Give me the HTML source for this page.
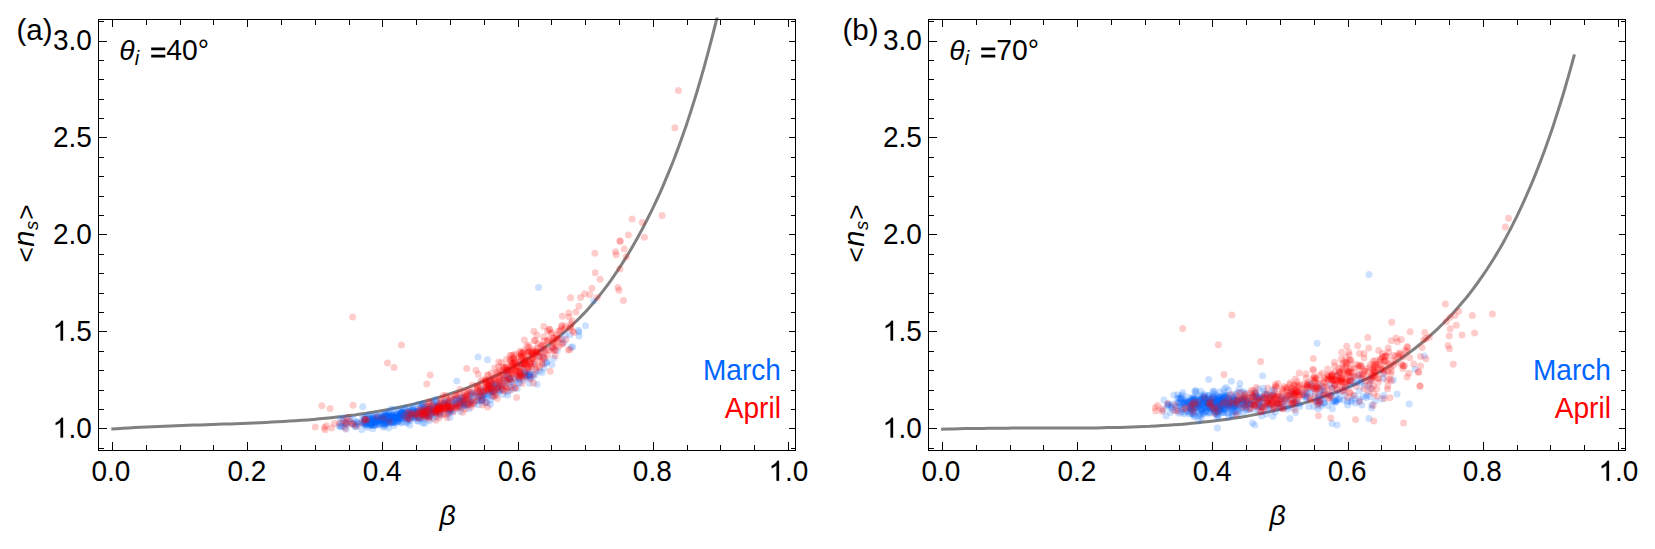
<!DOCTYPE html>
<html><head><meta charset="utf-8"><title>chart</title>
<style>
html,body{margin:0;padding:0;background:#fff}
svg{display:block}
.t{font-family:"Liberation Sans",sans-serif;font-size:28.3px;fill:#000}
.n{font-family:"Liberation Sans",sans-serif;font-size:29.5px;fill:#000}
.i{font-style:italic}
</style></head><body>
<svg width="1655" height="549" viewBox="0 0 1655 549">
<defs><clipPath id="clipc"><rect x="0" y="17.4" width="1655" height="532"/></clipPath></defs>
<rect width="1655" height="549" fill="#fff"/>
<path d="M111.3,429.1 L117.2,428.7 L123.0,428.3 L128.9,427.9 L134.8,427.6 L140.7,427.3 L146.6,427.0 L152.5,426.7 L158.4,426.4 L164.4,426.2 L170.3,425.9 L176.2,425.7 L182.2,425.5 L188.1,425.3 L194.1,425.1 L200.0,424.9 L206.0,424.7 L212.0,424.5 L217.9,424.3 L223.9,424.1 L229.9,423.9 L235.9,423.7 L241.8,423.5 L247.8,423.2 L253.8,423.0 L259.8,422.7 L265.7,422.4 L271.7,422.1 L277.7,421.8 L283.6,421.5 L289.6,421.1 L295.6,420.7 L301.5,420.3 L307.5,419.9 L313.4,419.4 L319.4,418.8 L325.3,418.3 L331.2,417.7 L337.1,417.0 L343.0,416.4 L348.9,415.6 L354.8,414.9 L360.7,414.0 L366.6,413.2 L372.5,412.2 L378.3,411.3 L384.2,410.2 L390.0,409.1 L395.8,408.0 L401.6,406.8 L407.4,405.5 L413.2,404.1 L419.0,402.7 L424.7,401.3 L430.4,399.7 L436.2,398.1 L441.9,396.4 L447.6,394.6 L453.2,392.7 L458.9,390.8 L464.5,388.8 L470.1,386.7 L475.6,384.5 L481.2,382.2 L486.7,379.9 L492.1,377.4 L497.5,374.9 L502.9,372.3 L508.2,369.6 L513.5,366.8 L518.7,363.9 L523.8,360.9 L528.9,357.9 L533.9,354.7 L538.9,351.4 L543.8,348.1 L548.6,344.6 L553.3,341.1 L558.0,337.4 L562.5,333.7 L567.0,329.8 L571.4,325.9 L575.7,321.8 L579.9,317.6 L584.0,313.4 L588.1,309.0 L592.0,304.6 L595.8,300.0 L599.6,295.4 L603.3,290.7 L606.9,285.9 L610.4,281.1 L613.8,276.2 L617.2,271.2 L620.5,266.2 L623.7,261.1 L626.9,256.1 L630.0,250.9 L633.0,245.8 L636.0,240.6 L638.9,235.3 L641.7,230.1 L644.5,224.8 L647.2,219.5 L649.9,214.1 L652.5,208.8 L655.1,203.4 L657.6,198.0 L660.1,192.6 L662.5,187.1 L664.8,181.7 L667.1,176.2 L669.4,170.7 L671.6,165.2 L673.8,159.7 L675.9,154.1 L678.0,148.6 L680.0,143.0 L682.0,137.4 L684.0,131.8 L686.0,126.2 L687.8,120.6 L689.7,114.9 L691.5,109.3 L693.3,103.6 L695.1,97.9 L696.8,92.2 L698.5,86.5 L700.2,80.8 L701.8,75.1 L703.5,69.3 L705.1,63.6 L706.6,57.9 L708.2,52.1 L709.7,46.3 L711.2,40.6 L712.7,34.8 L714.2,29.0 L715.7,23.2 L717.1,17.4 L718.1,13.5" fill="none" stroke="#808080" stroke-width="3" clip-path="url(#clipc)"/>
<g fill="#0066ff" fill-opacity="0.2"><circle cx="440.9" cy="406.4" r="3.5"/><circle cx="498.2" cy="389.8" r="3.5"/><circle cx="528.1" cy="375.7" r="3.5"/><circle cx="370.6" cy="423.7" r="3.5"/><circle cx="385.1" cy="417.6" r="3.5"/><circle cx="519.2" cy="383.1" r="3.5"/><circle cx="398.1" cy="421.3" r="3.5"/><circle cx="530.6" cy="377.1" r="3.5"/><circle cx="507.9" cy="391.7" r="3.5"/><circle cx="421.9" cy="412.5" r="3.5"/><circle cx="393.6" cy="417.4" r="3.5"/><circle cx="365.9" cy="424.0" r="3.5"/><circle cx="353.0" cy="419.1" r="3.5"/><circle cx="398.1" cy="418.0" r="3.5"/><circle cx="428.7" cy="409.5" r="3.5"/><circle cx="438.6" cy="407.7" r="3.5"/><circle cx="437.1" cy="402.6" r="3.5"/><circle cx="482.1" cy="391.0" r="3.5"/><circle cx="414.0" cy="414.5" r="3.5"/><circle cx="465.2" cy="405.6" r="3.5"/><circle cx="340.5" cy="426.4" r="3.5"/><circle cx="379.5" cy="419.7" r="3.5"/><circle cx="454.5" cy="404.1" r="3.5"/><circle cx="394.0" cy="415.1" r="3.5"/><circle cx="374.1" cy="421.8" r="3.5"/><circle cx="429.8" cy="410.4" r="3.5"/><circle cx="450.7" cy="408.5" r="3.5"/><circle cx="401.1" cy="422.9" r="3.5"/><circle cx="426.9" cy="411.9" r="3.5"/><circle cx="444.9" cy="401.4" r="3.5"/><circle cx="448.7" cy="403.0" r="3.5"/><circle cx="420.8" cy="407.8" r="3.5"/><circle cx="409.3" cy="411.1" r="3.5"/><circle cx="392.6" cy="422.5" r="3.5"/><circle cx="438.4" cy="410.2" r="3.5"/><circle cx="402.2" cy="411.4" r="3.5"/><circle cx="375.3" cy="422.5" r="3.5"/><circle cx="385.5" cy="423.2" r="3.5"/><circle cx="525.1" cy="371.6" r="3.5"/><circle cx="426.0" cy="409.6" r="3.5"/><circle cx="383.1" cy="418.4" r="3.5"/><circle cx="492.8" cy="392.6" r="3.5"/><circle cx="435.6" cy="412.5" r="3.5"/><circle cx="539.8" cy="371.0" r="3.5"/><circle cx="429.4" cy="416.2" r="3.5"/><circle cx="544.1" cy="367.9" r="3.5"/><circle cx="366.7" cy="425.5" r="3.5"/><circle cx="425.2" cy="414.9" r="3.5"/><circle cx="424.9" cy="406.6" r="3.5"/><circle cx="521.0" cy="375.6" r="3.5"/><circle cx="407.5" cy="416.9" r="3.5"/><circle cx="389.4" cy="417.3" r="3.5"/><circle cx="367.7" cy="424.1" r="3.5"/><circle cx="393.1" cy="416.9" r="3.5"/><circle cx="372.9" cy="417.9" r="3.5"/><circle cx="355.4" cy="426.7" r="3.5"/><circle cx="529.5" cy="374.9" r="3.5"/><circle cx="396.3" cy="418.3" r="3.5"/><circle cx="511.1" cy="387.4" r="3.5"/><circle cx="417.4" cy="417.9" r="3.5"/><circle cx="458.0" cy="405.3" r="3.5"/><circle cx="423.7" cy="403.3" r="3.5"/><circle cx="459.9" cy="400.3" r="3.5"/><circle cx="367.8" cy="420.0" r="3.5"/><circle cx="369.0" cy="418.3" r="3.5"/><circle cx="390.4" cy="419.1" r="3.5"/><circle cx="372.0" cy="424.5" r="3.5"/><circle cx="400.0" cy="415.3" r="3.5"/><circle cx="503.2" cy="379.8" r="3.5"/><circle cx="367.6" cy="427.4" r="3.5"/><circle cx="432.2" cy="409.0" r="3.5"/><circle cx="379.2" cy="416.1" r="3.5"/><circle cx="525.4" cy="375.0" r="3.5"/><circle cx="413.1" cy="416.3" r="3.5"/><circle cx="377.4" cy="418.0" r="3.5"/><circle cx="535.4" cy="371.7" r="3.5"/><circle cx="570.1" cy="334.7" r="3.5"/><circle cx="562.0" cy="339.4" r="3.5"/><circle cx="431.9" cy="411.6" r="3.5"/><circle cx="390.7" cy="421.0" r="3.5"/><circle cx="417.4" cy="411.6" r="3.5"/><circle cx="490.2" cy="394.0" r="3.5"/><circle cx="403.8" cy="416.1" r="3.5"/><circle cx="388.7" cy="428.0" r="3.5"/><circle cx="509.7" cy="378.7" r="3.5"/><circle cx="407.8" cy="420.7" r="3.5"/><circle cx="385.7" cy="418.9" r="3.5"/><circle cx="357.1" cy="422.1" r="3.5"/><circle cx="399.8" cy="419.5" r="3.5"/><circle cx="370.9" cy="423.7" r="3.5"/><circle cx="383.4" cy="423.5" r="3.5"/><circle cx="501.6" cy="388.7" r="3.5"/><circle cx="447.0" cy="404.5" r="3.5"/><circle cx="421.2" cy="411.2" r="3.5"/><circle cx="396.4" cy="419.3" r="3.5"/><circle cx="464.4" cy="404.5" r="3.5"/><circle cx="378.9" cy="424.4" r="3.5"/><circle cx="365.5" cy="422.8" r="3.5"/><circle cx="409.2" cy="419.3" r="3.5"/><circle cx="385.7" cy="424.0" r="3.5"/><circle cx="469.5" cy="400.9" r="3.5"/><circle cx="420.7" cy="407.7" r="3.5"/><circle cx="381.8" cy="415.8" r="3.5"/><circle cx="449.2" cy="400.4" r="3.5"/><circle cx="440.5" cy="415.2" r="3.5"/><circle cx="365.2" cy="419.1" r="3.5"/><circle cx="420.0" cy="418.1" r="3.5"/><circle cx="498.7" cy="391.6" r="3.5"/><circle cx="405.7" cy="422.1" r="3.5"/><circle cx="427.2" cy="415.8" r="3.5"/><circle cx="518.5" cy="377.4" r="3.5"/><circle cx="564.0" cy="342.4" r="3.5"/><circle cx="381.5" cy="419.9" r="3.5"/><circle cx="482.1" cy="396.4" r="3.5"/><circle cx="410.9" cy="413.2" r="3.5"/><circle cx="511.1" cy="381.8" r="3.5"/><circle cx="517.1" cy="388.4" r="3.5"/><circle cx="376.0" cy="415.1" r="3.5"/><circle cx="425.3" cy="413.3" r="3.5"/><circle cx="552.2" cy="348.0" r="3.5"/><circle cx="397.8" cy="418.0" r="3.5"/><circle cx="448.7" cy="410.0" r="3.5"/><circle cx="425.9" cy="412.0" r="3.5"/><circle cx="447.5" cy="410.1" r="3.5"/><circle cx="487.9" cy="385.0" r="3.5"/><circle cx="395.1" cy="421.5" r="3.5"/><circle cx="400.1" cy="414.9" r="3.5"/><circle cx="379.4" cy="421.9" r="3.5"/><circle cx="352.0" cy="423.4" r="3.5"/><circle cx="393.7" cy="409.3" r="3.5"/><circle cx="469.4" cy="396.6" r="3.5"/><circle cx="421.3" cy="414.0" r="3.5"/><circle cx="374.0" cy="425.4" r="3.5"/><circle cx="379.4" cy="420.8" r="3.5"/><circle cx="416.4" cy="415.1" r="3.5"/><circle cx="411.0" cy="410.0" r="3.5"/><circle cx="503.0" cy="394.2" r="3.5"/><circle cx="460.3" cy="411.2" r="3.5"/><circle cx="483.8" cy="395.0" r="3.5"/><circle cx="495.2" cy="388.8" r="3.5"/><circle cx="433.5" cy="404.1" r="3.5"/><circle cx="406.0" cy="419.1" r="3.5"/><circle cx="361.8" cy="429.8" r="3.5"/><circle cx="477.5" cy="400.8" r="3.5"/><circle cx="387.9" cy="422.9" r="3.5"/><circle cx="426.8" cy="414.1" r="3.5"/><circle cx="393.2" cy="414.7" r="3.5"/><circle cx="355.6" cy="426.3" r="3.5"/><circle cx="438.3" cy="404.3" r="3.5"/><circle cx="490.7" cy="390.9" r="3.5"/><circle cx="379.9" cy="420.7" r="3.5"/><circle cx="492.0" cy="396.2" r="3.5"/><circle cx="415.6" cy="415.8" r="3.5"/><circle cx="413.7" cy="416.1" r="3.5"/><circle cx="384.7" cy="416.8" r="3.5"/><circle cx="493.4" cy="383.9" r="3.5"/><circle cx="423.7" cy="412.9" r="3.5"/><circle cx="426.4" cy="409.4" r="3.5"/><circle cx="413.1" cy="410.0" r="3.5"/><circle cx="400.6" cy="412.5" r="3.5"/><circle cx="372.6" cy="419.3" r="3.5"/><circle cx="543.2" cy="349.2" r="3.5"/><circle cx="492.5" cy="384.1" r="3.5"/><circle cx="384.9" cy="413.9" r="3.5"/><circle cx="422.3" cy="413.6" r="3.5"/><circle cx="432.7" cy="412.3" r="3.5"/><circle cx="418.5" cy="421.2" r="3.5"/><circle cx="428.0" cy="406.0" r="3.5"/><circle cx="364.3" cy="419.7" r="3.5"/><circle cx="481.8" cy="400.2" r="3.5"/><circle cx="491.9" cy="390.4" r="3.5"/><circle cx="428.3" cy="410.4" r="3.5"/><circle cx="423.8" cy="419.2" r="3.5"/><circle cx="397.1" cy="416.3" r="3.5"/><circle cx="400.6" cy="412.9" r="3.5"/><circle cx="363.7" cy="417.9" r="3.5"/><circle cx="487.4" cy="395.1" r="3.5"/><circle cx="525.5" cy="375.4" r="3.5"/><circle cx="503.6" cy="378.3" r="3.5"/><circle cx="388.8" cy="415.4" r="3.5"/><circle cx="547.0" cy="361.5" r="3.5"/><circle cx="471.5" cy="402.1" r="3.5"/><circle cx="497.2" cy="385.5" r="3.5"/><circle cx="416.2" cy="416.5" r="3.5"/><circle cx="544.8" cy="363.4" r="3.5"/><circle cx="346.7" cy="418.6" r="3.5"/><circle cx="372.7" cy="419.8" r="3.5"/><circle cx="375.5" cy="421.7" r="3.5"/><circle cx="399.7" cy="415.1" r="3.5"/><circle cx="398.6" cy="409.9" r="3.5"/><circle cx="414.6" cy="413.4" r="3.5"/><circle cx="387.7" cy="421.3" r="3.5"/><circle cx="401.5" cy="422.3" r="3.5"/><circle cx="422.3" cy="404.7" r="3.5"/><circle cx="372.8" cy="428.7" r="3.5"/><circle cx="444.8" cy="403.0" r="3.5"/><circle cx="367.6" cy="424.2" r="3.5"/><circle cx="344.2" cy="426.8" r="3.5"/><circle cx="481.9" cy="400.5" r="3.5"/><circle cx="389.7" cy="419.0" r="3.5"/><circle cx="472.5" cy="393.5" r="3.5"/><circle cx="440.3" cy="411.3" r="3.5"/><circle cx="438.7" cy="406.3" r="3.5"/><circle cx="418.5" cy="404.3" r="3.5"/><circle cx="424.8" cy="423.3" r="3.5"/><circle cx="355.2" cy="424.6" r="3.5"/><circle cx="468.9" cy="408.8" r="3.5"/><circle cx="463.4" cy="398.0" r="3.5"/><circle cx="453.3" cy="411.5" r="3.5"/><circle cx="395.1" cy="423.1" r="3.5"/><circle cx="373.2" cy="425.5" r="3.5"/><circle cx="346.2" cy="423.4" r="3.5"/><circle cx="400.4" cy="412.8" r="3.5"/><circle cx="427.2" cy="411.2" r="3.5"/><circle cx="506.5" cy="371.9" r="3.5"/><circle cx="388.4" cy="413.1" r="3.5"/><circle cx="515.8" cy="380.1" r="3.5"/><circle cx="495.7" cy="384.4" r="3.5"/><circle cx="411.4" cy="414.5" r="3.5"/><circle cx="508.8" cy="382.6" r="3.5"/><circle cx="507.7" cy="394.9" r="3.5"/><circle cx="394.6" cy="422.2" r="3.5"/><circle cx="390.8" cy="418.2" r="3.5"/><circle cx="425.8" cy="416.9" r="3.5"/><circle cx="423.2" cy="409.8" r="3.5"/><circle cx="390.5" cy="417.3" r="3.5"/><circle cx="393.5" cy="421.1" r="3.5"/><circle cx="474.4" cy="392.4" r="3.5"/><circle cx="498.0" cy="387.2" r="3.5"/><circle cx="453.5" cy="399.5" r="3.5"/><circle cx="351.6" cy="423.3" r="3.5"/><circle cx="484.9" cy="402.7" r="3.5"/><circle cx="491.4" cy="387.8" r="3.5"/><circle cx="470.2" cy="400.9" r="3.5"/><circle cx="388.1" cy="415.8" r="3.5"/><circle cx="373.3" cy="417.2" r="3.5"/><circle cx="445.1" cy="402.4" r="3.5"/><circle cx="371.6" cy="425.3" r="3.5"/><circle cx="429.2" cy="420.7" r="3.5"/><circle cx="527.5" cy="375.1" r="3.5"/><circle cx="438.4" cy="406.4" r="3.5"/><circle cx="365.8" cy="423.6" r="3.5"/><circle cx="417.7" cy="412.7" r="3.5"/><circle cx="407.5" cy="418.6" r="3.5"/><circle cx="402.2" cy="417.7" r="3.5"/><circle cx="363.0" cy="422.7" r="3.5"/><circle cx="376.5" cy="422.2" r="3.5"/><circle cx="429.4" cy="409.2" r="3.5"/><circle cx="461.4" cy="401.0" r="3.5"/><circle cx="366.9" cy="416.3" r="3.5"/><circle cx="376.6" cy="418.9" r="3.5"/><circle cx="373.4" cy="416.3" r="3.5"/><circle cx="357.0" cy="422.1" r="3.5"/><circle cx="377.9" cy="417.1" r="3.5"/><circle cx="389.3" cy="418.9" r="3.5"/><circle cx="425.2" cy="414.1" r="3.5"/><circle cx="350.3" cy="419.2" r="3.5"/><circle cx="478.8" cy="392.7" r="3.5"/><circle cx="451.8" cy="401.7" r="3.5"/><circle cx="397.6" cy="419.9" r="3.5"/><circle cx="384.7" cy="424.7" r="3.5"/><circle cx="464.4" cy="405.7" r="3.5"/><circle cx="399.1" cy="416.0" r="3.5"/><circle cx="374.5" cy="425.0" r="3.5"/><circle cx="362.6" cy="417.5" r="3.5"/><circle cx="370.0" cy="425.6" r="3.5"/><circle cx="543.4" cy="356.7" r="3.5"/><circle cx="390.7" cy="409.2" r="3.5"/><circle cx="409.8" cy="424.9" r="3.5"/><circle cx="478.2" cy="404.7" r="3.5"/><circle cx="455.6" cy="400.1" r="3.5"/><circle cx="374.1" cy="421.1" r="3.5"/><circle cx="383.1" cy="418.7" r="3.5"/><circle cx="578.5" cy="330.2" r="3.5"/><circle cx="401.8" cy="411.6" r="3.5"/><circle cx="416.7" cy="411.6" r="3.5"/><circle cx="384.6" cy="420.8" r="3.5"/><circle cx="505.5" cy="386.2" r="3.5"/><circle cx="535.4" cy="374.2" r="3.5"/><circle cx="477.9" cy="397.5" r="3.5"/><circle cx="383.1" cy="426.9" r="3.5"/><circle cx="380.6" cy="417.5" r="3.5"/><circle cx="386.6" cy="419.8" r="3.5"/><circle cx="433.2" cy="403.0" r="3.5"/><circle cx="538.9" cy="356.3" r="3.5"/><circle cx="392.7" cy="422.6" r="3.5"/><circle cx="402.8" cy="413.3" r="3.5"/><circle cx="400.4" cy="418.8" r="3.5"/><circle cx="523.8" cy="374.2" r="3.5"/><circle cx="565.3" cy="335.5" r="3.5"/><circle cx="402.0" cy="415.5" r="3.5"/><circle cx="391.4" cy="416.6" r="3.5"/><circle cx="499.6" cy="385.2" r="3.5"/><circle cx="478.5" cy="400.6" r="3.5"/><circle cx="463.1" cy="405.2" r="3.5"/><circle cx="490.7" cy="389.0" r="3.5"/><circle cx="510.0" cy="377.4" r="3.5"/><circle cx="519.6" cy="379.0" r="3.5"/><circle cx="479.7" cy="395.9" r="3.5"/><circle cx="392.5" cy="421.6" r="3.5"/><circle cx="422.7" cy="422.9" r="3.5"/><circle cx="388.7" cy="421.5" r="3.5"/><circle cx="490.0" cy="392.2" r="3.5"/><circle cx="455.9" cy="403.7" r="3.5"/><circle cx="493.7" cy="386.1" r="3.5"/><circle cx="404.1" cy="413.2" r="3.5"/><circle cx="366.7" cy="418.5" r="3.5"/><circle cx="381.4" cy="418.4" r="3.5"/><circle cx="399.8" cy="415.6" r="3.5"/><circle cx="458.3" cy="407.0" r="3.5"/><circle cx="435.2" cy="408.5" r="3.5"/><circle cx="364.8" cy="421.1" r="3.5"/><circle cx="460.9" cy="397.5" r="3.5"/><circle cx="572.6" cy="346.7" r="3.5"/><circle cx="427.3" cy="413.9" r="3.5"/><circle cx="487.0" cy="402.8" r="3.5"/><circle cx="519.5" cy="382.2" r="3.5"/><circle cx="388.7" cy="423.6" r="3.5"/><circle cx="388.4" cy="417.9" r="3.5"/><circle cx="546.8" cy="362.8" r="3.5"/><circle cx="449.9" cy="417.6" r="3.5"/><circle cx="407.7" cy="411.4" r="3.5"/><circle cx="428.9" cy="416.1" r="3.5"/><circle cx="542.0" cy="372.6" r="3.5"/><circle cx="500.8" cy="389.7" r="3.5"/><circle cx="372.6" cy="423.1" r="3.5"/><circle cx="391.9" cy="422.5" r="3.5"/><circle cx="519.3" cy="373.4" r="3.5"/><circle cx="387.0" cy="420.3" r="3.5"/><circle cx="396.2" cy="414.6" r="3.5"/><circle cx="416.1" cy="411.6" r="3.5"/><circle cx="343.0" cy="422.0" r="3.5"/><circle cx="524.9" cy="373.0" r="3.5"/><circle cx="400.5" cy="417.5" r="3.5"/><circle cx="499.4" cy="390.5" r="3.5"/><circle cx="387.7" cy="414.1" r="3.5"/><circle cx="529.5" cy="383.3" r="3.5"/><circle cx="377.0" cy="423.9" r="3.5"/><circle cx="411.1" cy="417.8" r="3.5"/><circle cx="382.5" cy="418.3" r="3.5"/><circle cx="410.4" cy="414.9" r="3.5"/><circle cx="358.1" cy="423.9" r="3.5"/><circle cx="462.4" cy="404.3" r="3.5"/><circle cx="412.9" cy="408.5" r="3.5"/><circle cx="364.0" cy="424.0" r="3.5"/><circle cx="537.0" cy="384.3" r="3.5"/><circle cx="491.2" cy="381.9" r="3.5"/><circle cx="450.5" cy="410.3" r="3.5"/><circle cx="379.0" cy="421.2" r="3.5"/><circle cx="405.2" cy="415.8" r="3.5"/><circle cx="410.5" cy="420.3" r="3.5"/><circle cx="377.6" cy="416.4" r="3.5"/><circle cx="394.5" cy="418.4" r="3.5"/><circle cx="449.5" cy="412.6" r="3.5"/><circle cx="373.2" cy="420.1" r="3.5"/><circle cx="393.5" cy="416.6" r="3.5"/><circle cx="493.4" cy="391.5" r="3.5"/><circle cx="415.7" cy="412.6" r="3.5"/><circle cx="376.3" cy="425.2" r="3.5"/><circle cx="432.0" cy="407.2" r="3.5"/><circle cx="386.9" cy="421.9" r="3.5"/><circle cx="414.9" cy="409.7" r="3.5"/><circle cx="377.6" cy="422.3" r="3.5"/><circle cx="460.3" cy="402.6" r="3.5"/><circle cx="436.0" cy="399.3" r="3.5"/><circle cx="454.2" cy="405.0" r="3.5"/><circle cx="410.7" cy="411.2" r="3.5"/><circle cx="514.3" cy="377.6" r="3.5"/><circle cx="571.2" cy="347.6" r="3.5"/><circle cx="369.5" cy="417.7" r="3.5"/><circle cx="402.7" cy="412.8" r="3.5"/><circle cx="379.8" cy="424.5" r="3.5"/><circle cx="557.2" cy="350.5" r="3.5"/><circle cx="551.9" cy="364.4" r="3.5"/><circle cx="346.6" cy="424.3" r="3.5"/><circle cx="461.7" cy="398.6" r="3.5"/><circle cx="399.8" cy="416.8" r="3.5"/><circle cx="451.6" cy="411.1" r="3.5"/><circle cx="450.1" cy="410.2" r="3.5"/><circle cx="492.0" cy="391.5" r="3.5"/><circle cx="395.5" cy="417.9" r="3.5"/><circle cx="399.5" cy="416.7" r="3.5"/><circle cx="428.1" cy="409.4" r="3.5"/><circle cx="407.1" cy="422.9" r="3.5"/><circle cx="340.5" cy="423.9" r="3.5"/><circle cx="447.4" cy="402.1" r="3.5"/><circle cx="459.5" cy="401.2" r="3.5"/><circle cx="526.8" cy="377.2" r="3.5"/><circle cx="486.7" cy="397.1" r="3.5"/><circle cx="464.4" cy="401.2" r="3.5"/><circle cx="440.3" cy="406.0" r="3.5"/><circle cx="463.6" cy="402.2" r="3.5"/><circle cx="405.5" cy="410.0" r="3.5"/><circle cx="441.5" cy="403.0" r="3.5"/><circle cx="385.7" cy="421.7" r="3.5"/><circle cx="396.4" cy="415.9" r="3.5"/><circle cx="529.0" cy="373.5" r="3.5"/><circle cx="383.4" cy="423.4" r="3.5"/><circle cx="529.9" cy="374.7" r="3.5"/><circle cx="430.7" cy="411.2" r="3.5"/><circle cx="384.4" cy="426.3" r="3.5"/><circle cx="513.8" cy="384.6" r="3.5"/><circle cx="407.7" cy="414.4" r="3.5"/><circle cx="421.0" cy="416.1" r="3.5"/><circle cx="381.3" cy="421.0" r="3.5"/><circle cx="489.0" cy="388.2" r="3.5"/><circle cx="432.5" cy="411.0" r="3.5"/><circle cx="464.0" cy="401.2" r="3.5"/><circle cx="407.1" cy="408.6" r="3.5"/><circle cx="480.9" cy="395.1" r="3.5"/><circle cx="442.7" cy="407.0" r="3.5"/><circle cx="407.9" cy="414.1" r="3.5"/><circle cx="506.6" cy="374.8" r="3.5"/><circle cx="394.2" cy="416.7" r="3.5"/><circle cx="377.7" cy="420.0" r="3.5"/><circle cx="484.9" cy="395.0" r="3.5"/><circle cx="507.0" cy="377.6" r="3.5"/><circle cx="422.3" cy="415.4" r="3.5"/><circle cx="456.2" cy="398.9" r="3.5"/><circle cx="372.8" cy="420.0" r="3.5"/><circle cx="419.9" cy="418.5" r="3.5"/><circle cx="509.2" cy="379.0" r="3.5"/><circle cx="387.5" cy="417.1" r="3.5"/><circle cx="496.1" cy="395.5" r="3.5"/><circle cx="380.5" cy="418.5" r="3.5"/><circle cx="433.3" cy="409.3" r="3.5"/><circle cx="424.1" cy="413.5" r="3.5"/><circle cx="341.3" cy="426.6" r="3.5"/><circle cx="507.0" cy="371.3" r="3.5"/><circle cx="410.6" cy="412.1" r="3.5"/><circle cx="470.3" cy="395.0" r="3.5"/><circle cx="381.8" cy="416.0" r="3.5"/><circle cx="437.6" cy="406.0" r="3.5"/><circle cx="391.5" cy="415.4" r="3.5"/><circle cx="435.3" cy="411.3" r="3.5"/><circle cx="364.7" cy="419.0" r="3.5"/><circle cx="375.0" cy="420.9" r="3.5"/><circle cx="404.1" cy="417.8" r="3.5"/><circle cx="473.2" cy="395.2" r="3.5"/><circle cx="364.9" cy="422.0" r="3.5"/><circle cx="447.8" cy="413.8" r="3.5"/><circle cx="358.5" cy="423.3" r="3.5"/><circle cx="392.3" cy="416.0" r="3.5"/><circle cx="483.6" cy="394.6" r="3.5"/><circle cx="385.1" cy="416.1" r="3.5"/><circle cx="445.6" cy="408.5" r="3.5"/><circle cx="553.8" cy="358.3" r="3.5"/><circle cx="435.5" cy="406.7" r="3.5"/><circle cx="433.6" cy="409.6" r="3.5"/><circle cx="461.5" cy="407.8" r="3.5"/><circle cx="446.0" cy="405.2" r="3.5"/><circle cx="423.6" cy="413.4" r="3.5"/><circle cx="522.6" cy="369.0" r="3.5"/><circle cx="429.0" cy="408.3" r="3.5"/><circle cx="477.3" cy="394.7" r="3.5"/><circle cx="346.1" cy="429.2" r="3.5"/><circle cx="422.2" cy="411.4" r="3.5"/><circle cx="404.2" cy="414.5" r="3.5"/><circle cx="482.6" cy="392.5" r="3.5"/><circle cx="370.2" cy="420.6" r="3.5"/><circle cx="423.0" cy="415.3" r="3.5"/><circle cx="447.8" cy="407.6" r="3.5"/><circle cx="433.4" cy="418.6" r="3.5"/><circle cx="435.8" cy="410.8" r="3.5"/><circle cx="533.1" cy="377.3" r="3.5"/><circle cx="363.8" cy="422.6" r="3.5"/><circle cx="464.9" cy="404.4" r="3.5"/><circle cx="480.8" cy="388.8" r="3.5"/><circle cx="406.6" cy="415.5" r="3.5"/><circle cx="408.0" cy="415.4" r="3.5"/><circle cx="372.3" cy="420.1" r="3.5"/><circle cx="404.2" cy="408.8" r="3.5"/><circle cx="523.7" cy="380.1" r="3.5"/><circle cx="420.1" cy="412.0" r="3.5"/><circle cx="400.0" cy="415.5" r="3.5"/><circle cx="388.3" cy="417.9" r="3.5"/><circle cx="411.3" cy="414.3" r="3.5"/><circle cx="369.9" cy="422.3" r="3.5"/><circle cx="401.5" cy="412.4" r="3.5"/><circle cx="373.5" cy="417.8" r="3.5"/><circle cx="396.0" cy="418.6" r="3.5"/><circle cx="424.2" cy="413.1" r="3.5"/><circle cx="410.1" cy="414.0" r="3.5"/><circle cx="455.5" cy="402.1" r="3.5"/><circle cx="403.9" cy="413.4" r="3.5"/><circle cx="409.8" cy="415.2" r="3.5"/><circle cx="371.1" cy="424.5" r="3.5"/><circle cx="404.4" cy="412.6" r="3.5"/><circle cx="490.7" cy="400.1" r="3.5"/><circle cx="440.3" cy="412.2" r="3.5"/><circle cx="416.1" cy="412.5" r="3.5"/><circle cx="339.0" cy="426.0" r="3.5"/><circle cx="457.0" cy="397.7" r="3.5"/><circle cx="422.9" cy="406.3" r="3.5"/><circle cx="424.1" cy="407.7" r="3.5"/><circle cx="389.6" cy="417.2" r="3.5"/><circle cx="503.6" cy="384.1" r="3.5"/><circle cx="381.9" cy="417.9" r="3.5"/><circle cx="461.0" cy="403.4" r="3.5"/><circle cx="342.9" cy="418.1" r="3.5"/><circle cx="386.3" cy="420.6" r="3.5"/><circle cx="470.3" cy="393.1" r="3.5"/><circle cx="498.9" cy="384.6" r="3.5"/><circle cx="436.2" cy="408.2" r="3.5"/><circle cx="463.6" cy="396.8" r="3.5"/><circle cx="412.9" cy="409.8" r="3.5"/><circle cx="402.4" cy="413.1" r="3.5"/><circle cx="439.7" cy="408.9" r="3.5"/><circle cx="372.5" cy="422.6" r="3.5"/><circle cx="427.6" cy="414.0" r="3.5"/><circle cx="492.7" cy="385.9" r="3.5"/><circle cx="445.0" cy="404.3" r="3.5"/><circle cx="392.4" cy="415.1" r="3.5"/><circle cx="578.9" cy="332.1" r="3.5"/><circle cx="520.9" cy="364.1" r="3.5"/><circle cx="390.8" cy="422.5" r="3.5"/><circle cx="382.1" cy="418.0" r="3.5"/><circle cx="415.6" cy="411.4" r="3.5"/><circle cx="382.0" cy="420.7" r="3.5"/><circle cx="415.3" cy="418.1" r="3.5"/><circle cx="401.4" cy="418.0" r="3.5"/><circle cx="419.5" cy="417.5" r="3.5"/><circle cx="377.3" cy="420.6" r="3.5"/><circle cx="397.7" cy="421.6" r="3.5"/><circle cx="428.9" cy="416.4" r="3.5"/><circle cx="406.0" cy="415.7" r="3.5"/><circle cx="382.6" cy="424.1" r="3.5"/><circle cx="529.7" cy="371.7" r="3.5"/><circle cx="393.7" cy="418.3" r="3.5"/><circle cx="396.5" cy="414.4" r="3.5"/><circle cx="393.5" cy="417.0" r="3.5"/><circle cx="387.5" cy="421.4" r="3.5"/><circle cx="383.7" cy="415.1" r="3.5"/><circle cx="484.0" cy="398.0" r="3.5"/><circle cx="450.7" cy="407.4" r="3.5"/><circle cx="364.3" cy="422.5" r="3.5"/><circle cx="413.5" cy="406.6" r="3.5"/><circle cx="387.0" cy="418.6" r="3.5"/><circle cx="469.1" cy="403.3" r="3.5"/><circle cx="417.0" cy="411.2" r="3.5"/><circle cx="471.6" cy="399.8" r="3.5"/><circle cx="434.6" cy="400.8" r="3.5"/><circle cx="410.8" cy="417.6" r="3.5"/><circle cx="533.0" cy="364.2" r="3.5"/><circle cx="468.0" cy="404.7" r="3.5"/><circle cx="340.2" cy="419.1" r="3.5"/><circle cx="371.5" cy="423.0" r="3.5"/><circle cx="345.5" cy="422.8" r="3.5"/><circle cx="429.1" cy="414.6" r="3.5"/><circle cx="407.8" cy="412.4" r="3.5"/><circle cx="399.4" cy="415.0" r="3.5"/><circle cx="394.1" cy="425.5" r="3.5"/><circle cx="370.8" cy="418.5" r="3.5"/><circle cx="422.4" cy="410.3" r="3.5"/><circle cx="392.7" cy="417.2" r="3.5"/><circle cx="386.4" cy="415.7" r="3.5"/><circle cx="530.1" cy="377.7" r="3.5"/><circle cx="436.0" cy="416.8" r="3.5"/><circle cx="412.6" cy="412.3" r="3.5"/><circle cx="389.1" cy="413.0" r="3.5"/><circle cx="439.8" cy="413.7" r="3.5"/><circle cx="398.8" cy="421.0" r="3.5"/><circle cx="413.7" cy="417.7" r="3.5"/><circle cx="364.8" cy="425.1" r="3.5"/><circle cx="387.3" cy="416.0" r="3.5"/><circle cx="462.4" cy="401.7" r="3.5"/><circle cx="385.0" cy="414.7" r="3.5"/><circle cx="432.8" cy="405.1" r="3.5"/><circle cx="433.8" cy="414.3" r="3.5"/><circle cx="369.0" cy="419.2" r="3.5"/><circle cx="490.3" cy="404.2" r="3.5"/><circle cx="382.9" cy="419.7" r="3.5"/><circle cx="509.2" cy="379.4" r="3.5"/><circle cx="529.8" cy="375.5" r="3.5"/><circle cx="417.0" cy="420.7" r="3.5"/><circle cx="369.6" cy="422.6" r="3.5"/><circle cx="385.9" cy="415.1" r="3.5"/><circle cx="405.2" cy="417.5" r="3.5"/><circle cx="512.6" cy="389.3" r="3.5"/><circle cx="387.2" cy="417.3" r="3.5"/><circle cx="460.1" cy="399.7" r="3.5"/><circle cx="481.8" cy="400.7" r="3.5"/><circle cx="386.9" cy="419.4" r="3.5"/><circle cx="396.5" cy="413.8" r="3.5"/><circle cx="374.2" cy="419.4" r="3.5"/><circle cx="486.0" cy="390.1" r="3.5"/><circle cx="433.0" cy="411.8" r="3.5"/><circle cx="455.5" cy="405.0" r="3.5"/><circle cx="474.0" cy="404.1" r="3.5"/><circle cx="371.1" cy="423.1" r="3.5"/><circle cx="421.1" cy="407.3" r="3.5"/><circle cx="436.1" cy="411.5" r="3.5"/><circle cx="481.8" cy="400.1" r="3.5"/><circle cx="408.4" cy="417.2" r="3.5"/><circle cx="385.0" cy="422.5" r="3.5"/><circle cx="430.1" cy="409.1" r="3.5"/><circle cx="384.6" cy="416.2" r="3.5"/><circle cx="431.0" cy="414.7" r="3.5"/><circle cx="426.2" cy="408.0" r="3.5"/><circle cx="368.9" cy="414.7" r="3.5"/><circle cx="538.5" cy="287.5" r="3.5"/><circle cx="478.0" cy="357.0" r="3.5"/><circle cx="362.8" cy="406.8" r="3.5"/><circle cx="456.8" cy="381.1" r="3.5"/><circle cx="487.4" cy="359.8" r="3.5"/><circle cx="593.7" cy="301.1" r="3.5"/><circle cx="585.5" cy="325.8" r="3.5"/><circle cx="579.1" cy="336.0" r="3.5"/></g>
<g fill="#ff0000" fill-opacity="0.2"><circle cx="486.1" cy="381.3" r="3.5"/><circle cx="540.2" cy="351.9" r="3.5"/><circle cx="568.7" cy="313.0" r="3.5"/><circle cx="536.9" cy="352.4" r="3.5"/><circle cx="529.3" cy="352.0" r="3.5"/><circle cx="533.6" cy="383.3" r="3.5"/><circle cx="491.3" cy="390.4" r="3.5"/><circle cx="506.6" cy="366.6" r="3.5"/><circle cx="422.1" cy="410.3" r="3.5"/><circle cx="427.9" cy="411.1" r="3.5"/><circle cx="494.8" cy="367.9" r="3.5"/><circle cx="515.5" cy="361.2" r="3.5"/><circle cx="515.1" cy="361.4" r="3.5"/><circle cx="356.6" cy="426.0" r="3.5"/><circle cx="537.2" cy="348.1" r="3.5"/><circle cx="383.4" cy="417.9" r="3.5"/><circle cx="472.5" cy="385.1" r="3.5"/><circle cx="510.1" cy="361.1" r="3.5"/><circle cx="553.5" cy="338.1" r="3.5"/><circle cx="535.8" cy="351.4" r="3.5"/><circle cx="475.8" cy="400.9" r="3.5"/><circle cx="502.9" cy="371.0" r="3.5"/><circle cx="544.9" cy="358.1" r="3.5"/><circle cx="468.4" cy="398.1" r="3.5"/><circle cx="499.5" cy="378.7" r="3.5"/><circle cx="498.7" cy="362.0" r="3.5"/><circle cx="491.4" cy="373.2" r="3.5"/><circle cx="572.6" cy="331.2" r="3.5"/><circle cx="470.5" cy="404.7" r="3.5"/><circle cx="532.0" cy="358.6" r="3.5"/><circle cx="505.9" cy="381.3" r="3.5"/><circle cx="472.1" cy="391.8" r="3.5"/><circle cx="507.7" cy="370.1" r="3.5"/><circle cx="521.4" cy="357.6" r="3.5"/><circle cx="529.2" cy="368.5" r="3.5"/><circle cx="436.2" cy="411.5" r="3.5"/><circle cx="534.9" cy="352.0" r="3.5"/><circle cx="532.7" cy="352.6" r="3.5"/><circle cx="389.5" cy="421.4" r="3.5"/><circle cx="542.8" cy="351.6" r="3.5"/><circle cx="505.0" cy="367.8" r="3.5"/><circle cx="452.7" cy="412.0" r="3.5"/><circle cx="570.6" cy="326.8" r="3.5"/><circle cx="522.9" cy="363.1" r="3.5"/><circle cx="502.7" cy="389.6" r="3.5"/><circle cx="519.8" cy="374.9" r="3.5"/><circle cx="440.3" cy="408.2" r="3.5"/><circle cx="545.0" cy="352.1" r="3.5"/><circle cx="480.7" cy="381.7" r="3.5"/><circle cx="521.5" cy="357.8" r="3.5"/><circle cx="478.2" cy="374.3" r="3.5"/><circle cx="519.8" cy="376.8" r="3.5"/><circle cx="543.7" cy="326.5" r="3.5"/><circle cx="449.4" cy="408.2" r="3.5"/><circle cx="444.5" cy="403.3" r="3.5"/><circle cx="464.8" cy="392.4" r="3.5"/><circle cx="326.3" cy="425.7" r="3.5"/><circle cx="445.1" cy="408.0" r="3.5"/><circle cx="491.8" cy="388.5" r="3.5"/><circle cx="471.2" cy="406.9" r="3.5"/><circle cx="530.3" cy="361.4" r="3.5"/><circle cx="498.5" cy="386.8" r="3.5"/><circle cx="492.5" cy="378.1" r="3.5"/><circle cx="407.8" cy="419.2" r="3.5"/><circle cx="459.9" cy="401.4" r="3.5"/><circle cx="507.5" cy="369.3" r="3.5"/><circle cx="532.3" cy="355.3" r="3.5"/><circle cx="524.6" cy="361.2" r="3.5"/><circle cx="524.1" cy="364.1" r="3.5"/><circle cx="516.0" cy="371.5" r="3.5"/><circle cx="561.9" cy="325.3" r="3.5"/><circle cx="497.2" cy="373.9" r="3.5"/><circle cx="488.3" cy="391.6" r="3.5"/><circle cx="501.4" cy="362.7" r="3.5"/><circle cx="414.2" cy="413.4" r="3.5"/><circle cx="539.4" cy="367.6" r="3.5"/><circle cx="443.1" cy="395.7" r="3.5"/><circle cx="485.4" cy="381.8" r="3.5"/><circle cx="552.0" cy="347.9" r="3.5"/><circle cx="506.3" cy="359.6" r="3.5"/><circle cx="550.2" cy="371.3" r="3.5"/><circle cx="430.4" cy="402.4" r="3.5"/><circle cx="522.6" cy="377.2" r="3.5"/><circle cx="502.8" cy="390.2" r="3.5"/><circle cx="565.9" cy="339.5" r="3.5"/><circle cx="516.6" cy="365.2" r="3.5"/><circle cx="505.0" cy="378.3" r="3.5"/><circle cx="468.7" cy="390.5" r="3.5"/><circle cx="501.8" cy="384.3" r="3.5"/><circle cx="528.9" cy="347.4" r="3.5"/><circle cx="543.0" cy="344.9" r="3.5"/><circle cx="554.5" cy="349.6" r="3.5"/><circle cx="502.9" cy="366.8" r="3.5"/><circle cx="518.4" cy="362.6" r="3.5"/><circle cx="445.2" cy="407.5" r="3.5"/><circle cx="488.5" cy="374.7" r="3.5"/><circle cx="526.0" cy="372.4" r="3.5"/><circle cx="520.4" cy="367.9" r="3.5"/><circle cx="440.6" cy="402.0" r="3.5"/><circle cx="490.9" cy="383.6" r="3.5"/><circle cx="538.1" cy="343.7" r="3.5"/><circle cx="339.2" cy="423.3" r="3.5"/><circle cx="449.2" cy="405.5" r="3.5"/><circle cx="527.3" cy="352.8" r="3.5"/><circle cx="543.7" cy="358.0" r="3.5"/><circle cx="477.8" cy="386.3" r="3.5"/><circle cx="539.8" cy="361.2" r="3.5"/><circle cx="437.1" cy="409.6" r="3.5"/><circle cx="457.1" cy="406.2" r="3.5"/><circle cx="510.8" cy="366.4" r="3.5"/><circle cx="523.9" cy="357.3" r="3.5"/><circle cx="549.4" cy="329.3" r="3.5"/><circle cx="539.2" cy="357.3" r="3.5"/><circle cx="418.2" cy="418.2" r="3.5"/><circle cx="515.0" cy="388.2" r="3.5"/><circle cx="518.8" cy="378.1" r="3.5"/><circle cx="466.1" cy="399.1" r="3.5"/><circle cx="494.7" cy="379.9" r="3.5"/><circle cx="559.5" cy="338.4" r="3.5"/><circle cx="565.0" cy="328.4" r="3.5"/><circle cx="542.4" cy="364.4" r="3.5"/><circle cx="437.5" cy="413.5" r="3.5"/><circle cx="438.0" cy="406.0" r="3.5"/><circle cx="455.8" cy="399.1" r="3.5"/><circle cx="473.0" cy="403.6" r="3.5"/><circle cx="496.1" cy="383.4" r="3.5"/><circle cx="541.3" cy="346.8" r="3.5"/><circle cx="429.5" cy="416.9" r="3.5"/><circle cx="494.5" cy="378.6" r="3.5"/><circle cx="506.6" cy="371.6" r="3.5"/><circle cx="435.2" cy="408.6" r="3.5"/><circle cx="425.4" cy="406.0" r="3.5"/><circle cx="510.2" cy="379.6" r="3.5"/><circle cx="521.1" cy="352.5" r="3.5"/><circle cx="544.0" cy="340.8" r="3.5"/><circle cx="528.1" cy="351.8" r="3.5"/><circle cx="506.7" cy="380.5" r="3.5"/><circle cx="526.6" cy="359.7" r="3.5"/><circle cx="436.6" cy="410.0" r="3.5"/><circle cx="536.9" cy="335.0" r="3.5"/><circle cx="446.7" cy="405.7" r="3.5"/><circle cx="455.4" cy="395.4" r="3.5"/><circle cx="490.5" cy="386.7" r="3.5"/><circle cx="431.3" cy="413.3" r="3.5"/><circle cx="516.9" cy="366.9" r="3.5"/><circle cx="515.2" cy="387.4" r="3.5"/><circle cx="517.9" cy="371.4" r="3.5"/><circle cx="552.6" cy="346.5" r="3.5"/><circle cx="532.7" cy="357.5" r="3.5"/><circle cx="465.8" cy="396.6" r="3.5"/><circle cx="534.9" cy="364.5" r="3.5"/><circle cx="467.5" cy="403.8" r="3.5"/><circle cx="512.8" cy="357.9" r="3.5"/><circle cx="470.9" cy="402.2" r="3.5"/><circle cx="475.1" cy="396.7" r="3.5"/><circle cx="562.5" cy="342.9" r="3.5"/><circle cx="530.1" cy="362.7" r="3.5"/><circle cx="513.4" cy="358.0" r="3.5"/><circle cx="547.4" cy="330.9" r="3.5"/><circle cx="504.9" cy="391.3" r="3.5"/><circle cx="524.1" cy="364.7" r="3.5"/><circle cx="376.9" cy="416.9" r="3.5"/><circle cx="438.9" cy="410.6" r="3.5"/><circle cx="438.6" cy="407.7" r="3.5"/><circle cx="445.6" cy="398.3" r="3.5"/><circle cx="533.9" cy="331.2" r="3.5"/><circle cx="343.8" cy="420.4" r="3.5"/><circle cx="455.7" cy="403.8" r="3.5"/><circle cx="495.0" cy="381.1" r="3.5"/><circle cx="509.2" cy="370.1" r="3.5"/><circle cx="479.9" cy="392.6" r="3.5"/><circle cx="451.7" cy="407.0" r="3.5"/><circle cx="440.7" cy="399.5" r="3.5"/><circle cx="547.1" cy="341.0" r="3.5"/><circle cx="438.1" cy="406.0" r="3.5"/><circle cx="407.4" cy="412.5" r="3.5"/><circle cx="422.3" cy="411.9" r="3.5"/><circle cx="499.3" cy="377.8" r="3.5"/><circle cx="549.2" cy="339.5" r="3.5"/><circle cx="498.7" cy="366.8" r="3.5"/><circle cx="531.5" cy="351.9" r="3.5"/><circle cx="510.1" cy="390.1" r="3.5"/><circle cx="511.7" cy="361.0" r="3.5"/><circle cx="511.6" cy="355.2" r="3.5"/><circle cx="483.7" cy="390.4" r="3.5"/><circle cx="426.5" cy="415.3" r="3.5"/><circle cx="448.1" cy="407.7" r="3.5"/><circle cx="521.3" cy="353.2" r="3.5"/><circle cx="514.7" cy="377.9" r="3.5"/><circle cx="512.2" cy="363.1" r="3.5"/><circle cx="366.4" cy="419.2" r="3.5"/><circle cx="569.1" cy="317.1" r="3.5"/><circle cx="488.0" cy="384.8" r="3.5"/><circle cx="556.1" cy="345.0" r="3.5"/><circle cx="530.3" cy="364.1" r="3.5"/><circle cx="513.9" cy="369.0" r="3.5"/><circle cx="573.9" cy="332.4" r="3.5"/><circle cx="510.8" cy="372.1" r="3.5"/><circle cx="466.5" cy="402.9" r="3.5"/><circle cx="451.0" cy="397.8" r="3.5"/><circle cx="513.7" cy="354.7" r="3.5"/><circle cx="449.4" cy="408.7" r="3.5"/><circle cx="430.2" cy="407.0" r="3.5"/><circle cx="421.0" cy="413.1" r="3.5"/><circle cx="556.8" cy="334.9" r="3.5"/><circle cx="439.7" cy="406.8" r="3.5"/><circle cx="477.4" cy="388.4" r="3.5"/><circle cx="440.3" cy="414.5" r="3.5"/><circle cx="347.8" cy="417.5" r="3.5"/><circle cx="451.6" cy="408.4" r="3.5"/><circle cx="462.7" cy="412.3" r="3.5"/><circle cx="433.8" cy="411.1" r="3.5"/><circle cx="428.2" cy="412.6" r="3.5"/><circle cx="463.2" cy="403.2" r="3.5"/><circle cx="465.0" cy="409.0" r="3.5"/><circle cx="364.5" cy="419.2" r="3.5"/><circle cx="509.8" cy="372.8" r="3.5"/><circle cx="536.7" cy="351.1" r="3.5"/><circle cx="460.4" cy="403.4" r="3.5"/><circle cx="464.7" cy="399.2" r="3.5"/><circle cx="438.8" cy="411.9" r="3.5"/><circle cx="467.4" cy="394.3" r="3.5"/><circle cx="570.9" cy="323.8" r="3.5"/><circle cx="366.5" cy="420.5" r="3.5"/><circle cx="498.5" cy="373.6" r="3.5"/><circle cx="526.7" cy="358.9" r="3.5"/><circle cx="345.5" cy="424.1" r="3.5"/><circle cx="408.7" cy="412.4" r="3.5"/><circle cx="555.3" cy="355.8" r="3.5"/><circle cx="503.8" cy="374.8" r="3.5"/><circle cx="459.7" cy="393.4" r="3.5"/><circle cx="555.4" cy="350.2" r="3.5"/><circle cx="411.8" cy="413.3" r="3.5"/><circle cx="482.1" cy="393.1" r="3.5"/><circle cx="426.2" cy="413.1" r="3.5"/><circle cx="500.1" cy="380.5" r="3.5"/><circle cx="433.9" cy="411.6" r="3.5"/><circle cx="448.1" cy="402.9" r="3.5"/><circle cx="501.1" cy="378.0" r="3.5"/><circle cx="522.0" cy="383.4" r="3.5"/><circle cx="524.4" cy="339.9" r="3.5"/><circle cx="487.9" cy="386.3" r="3.5"/><circle cx="516.3" cy="371.6" r="3.5"/><circle cx="420.2" cy="410.5" r="3.5"/><circle cx="534.4" cy="340.5" r="3.5"/><circle cx="439.1" cy="418.1" r="3.5"/><circle cx="471.1" cy="392.6" r="3.5"/><circle cx="482.4" cy="405.1" r="3.5"/><circle cx="434.5" cy="412.9" r="3.5"/><circle cx="422.6" cy="414.2" r="3.5"/><circle cx="526.6" cy="365.2" r="3.5"/><circle cx="508.8" cy="378.4" r="3.5"/><circle cx="456.0" cy="408.2" r="3.5"/><circle cx="487.7" cy="389.4" r="3.5"/><circle cx="442.7" cy="408.3" r="3.5"/><circle cx="498.5" cy="380.8" r="3.5"/><circle cx="536.5" cy="367.5" r="3.5"/><circle cx="542.5" cy="357.3" r="3.5"/><circle cx="349.6" cy="421.4" r="3.5"/><circle cx="551.0" cy="333.6" r="3.5"/><circle cx="533.3" cy="359.1" r="3.5"/><circle cx="462.7" cy="395.7" r="3.5"/><circle cx="507.9" cy="369.9" r="3.5"/><circle cx="543.8" cy="336.7" r="3.5"/><circle cx="466.1" cy="396.0" r="3.5"/><circle cx="546.2" cy="349.9" r="3.5"/><circle cx="547.6" cy="355.1" r="3.5"/><circle cx="438.1" cy="409.5" r="3.5"/><circle cx="530.5" cy="378.9" r="3.5"/><circle cx="361.8" cy="422.8" r="3.5"/><circle cx="516.6" cy="397.4" r="3.5"/><circle cx="331.6" cy="428.1" r="3.5"/><circle cx="539.6" cy="356.1" r="3.5"/><circle cx="502.4" cy="372.5" r="3.5"/><circle cx="428.8" cy="401.9" r="3.5"/><circle cx="446.6" cy="405.5" r="3.5"/><circle cx="533.0" cy="357.7" r="3.5"/><circle cx="485.7" cy="402.3" r="3.5"/><circle cx="528.6" cy="345.0" r="3.5"/><circle cx="568.4" cy="349.9" r="3.5"/><circle cx="547.9" cy="340.8" r="3.5"/><circle cx="510.3" cy="378.2" r="3.5"/><circle cx="445.6" cy="395.2" r="3.5"/><circle cx="422.9" cy="414.4" r="3.5"/><circle cx="541.3" cy="345.6" r="3.5"/><circle cx="534.2" cy="362.1" r="3.5"/><circle cx="556.5" cy="337.4" r="3.5"/><circle cx="482.5" cy="380.1" r="3.5"/><circle cx="519.2" cy="374.6" r="3.5"/><circle cx="507.4" cy="379.8" r="3.5"/><circle cx="493.6" cy="387.3" r="3.5"/><circle cx="478.7" cy="398.7" r="3.5"/><circle cx="502.6" cy="386.4" r="3.5"/><circle cx="477.4" cy="391.6" r="3.5"/><circle cx="487.3" cy="375.3" r="3.5"/><circle cx="456.8" cy="395.1" r="3.5"/><circle cx="325.1" cy="429.7" r="3.5"/><circle cx="435.9" cy="413.1" r="3.5"/><circle cx="441.2" cy="408.7" r="3.5"/><circle cx="561.5" cy="326.7" r="3.5"/><circle cx="484.8" cy="387.8" r="3.5"/><circle cx="504.4" cy="375.8" r="3.5"/><circle cx="514.4" cy="365.7" r="3.5"/><circle cx="443.7" cy="404.2" r="3.5"/><circle cx="497.4" cy="398.4" r="3.5"/><circle cx="524.9" cy="363.9" r="3.5"/><circle cx="533.0" cy="349.5" r="3.5"/><circle cx="535.2" cy="340.4" r="3.5"/><circle cx="477.5" cy="386.3" r="3.5"/><circle cx="424.7" cy="416.2" r="3.5"/><circle cx="520.1" cy="372.2" r="3.5"/><circle cx="513.7" cy="367.3" r="3.5"/><circle cx="486.1" cy="387.3" r="3.5"/><circle cx="416.0" cy="414.1" r="3.5"/><circle cx="513.9" cy="358.9" r="3.5"/><circle cx="467.9" cy="404.9" r="3.5"/><circle cx="487.3" cy="389.1" r="3.5"/><circle cx="435.8" cy="420.3" r="3.5"/><circle cx="512.1" cy="363.5" r="3.5"/><circle cx="463.3" cy="398.2" r="3.5"/><circle cx="519.9" cy="373.5" r="3.5"/><circle cx="519.7" cy="362.8" r="3.5"/><circle cx="510.2" cy="359.1" r="3.5"/><circle cx="520.7" cy="355.3" r="3.5"/><circle cx="476.0" cy="393.3" r="3.5"/><circle cx="570.3" cy="328.1" r="3.5"/><circle cx="448.9" cy="404.9" r="3.5"/><circle cx="517.9" cy="375.9" r="3.5"/><circle cx="553.4" cy="350.5" r="3.5"/><circle cx="521.2" cy="367.3" r="3.5"/><circle cx="524.7" cy="362.0" r="3.5"/><circle cx="492.4" cy="381.0" r="3.5"/><circle cx="443.8" cy="409.7" r="3.5"/><circle cx="531.4" cy="366.5" r="3.5"/><circle cx="479.2" cy="391.3" r="3.5"/><circle cx="468.2" cy="399.4" r="3.5"/><circle cx="437.3" cy="408.4" r="3.5"/><circle cx="526.8" cy="346.1" r="3.5"/><circle cx="523.5" cy="352.7" r="3.5"/><circle cx="457.4" cy="405.6" r="3.5"/><circle cx="554.3" cy="343.4" r="3.5"/><circle cx="493.0" cy="395.9" r="3.5"/><circle cx="527.7" cy="360.2" r="3.5"/><circle cx="481.2" cy="396.3" r="3.5"/><circle cx="542.2" cy="363.0" r="3.5"/><circle cx="497.7" cy="388.3" r="3.5"/><circle cx="439.8" cy="406.2" r="3.5"/><circle cx="436.0" cy="409.5" r="3.5"/><circle cx="514.9" cy="369.7" r="3.5"/><circle cx="496.5" cy="372.3" r="3.5"/><circle cx="482.8" cy="392.4" r="3.5"/><circle cx="558.8" cy="346.6" r="3.5"/><circle cx="477.6" cy="388.0" r="3.5"/><circle cx="569.8" cy="349.6" r="3.5"/><circle cx="558.8" cy="330.9" r="3.5"/><circle cx="443.0" cy="406.7" r="3.5"/><circle cx="524.8" cy="359.3" r="3.5"/><circle cx="522.4" cy="356.4" r="3.5"/><circle cx="558.7" cy="339.5" r="3.5"/><circle cx="538.0" cy="352.3" r="3.5"/><circle cx="508.6" cy="387.8" r="3.5"/><circle cx="530.6" cy="363.8" r="3.5"/><circle cx="488.3" cy="389.9" r="3.5"/><circle cx="561.2" cy="329.5" r="3.5"/><circle cx="515.7" cy="354.6" r="3.5"/><circle cx="439.7" cy="408.4" r="3.5"/><circle cx="485.7" cy="380.3" r="3.5"/><circle cx="455.7" cy="407.2" r="3.5"/><circle cx="440.3" cy="408.5" r="3.5"/><circle cx="428.9" cy="418.8" r="3.5"/><circle cx="528.9" cy="366.3" r="3.5"/><circle cx="528.2" cy="367.7" r="3.5"/><circle cx="443.4" cy="408.4" r="3.5"/><circle cx="442.7" cy="408.6" r="3.5"/><circle cx="454.4" cy="406.2" r="3.5"/><circle cx="497.4" cy="387.8" r="3.5"/><circle cx="334.3" cy="423.6" r="3.5"/><circle cx="499.8" cy="382.7" r="3.5"/><circle cx="487.7" cy="406.9" r="3.5"/><circle cx="424.0" cy="413.3" r="3.5"/><circle cx="467.0" cy="395.6" r="3.5"/><circle cx="528.2" cy="352.3" r="3.5"/><circle cx="519.7" cy="351.2" r="3.5"/><circle cx="520.9" cy="375.8" r="3.5"/><circle cx="439.1" cy="409.3" r="3.5"/><circle cx="512.6" cy="372.8" r="3.5"/><circle cx="533.5" cy="374.6" r="3.5"/><circle cx="447.0" cy="417.4" r="3.5"/><circle cx="504.0" cy="368.0" r="3.5"/><circle cx="562.1" cy="344.3" r="3.5"/><circle cx="519.3" cy="371.4" r="3.5"/><circle cx="512.4" cy="373.9" r="3.5"/><circle cx="449.1" cy="407.4" r="3.5"/><circle cx="544.2" cy="346.7" r="3.5"/><circle cx="524.9" cy="377.3" r="3.5"/><circle cx="519.6" cy="371.2" r="3.5"/><circle cx="407.6" cy="418.0" r="3.5"/><circle cx="494.5" cy="392.2" r="3.5"/><circle cx="527.5" cy="368.8" r="3.5"/><circle cx="513.0" cy="374.1" r="3.5"/><circle cx="461.8" cy="401.5" r="3.5"/><circle cx="445.8" cy="414.4" r="3.5"/><circle cx="451.8" cy="406.5" r="3.5"/><circle cx="436.8" cy="409.6" r="3.5"/><circle cx="426.2" cy="409.9" r="3.5"/><circle cx="531.3" cy="353.5" r="3.5"/><circle cx="365.3" cy="419.6" r="3.5"/><circle cx="489.9" cy="385.5" r="3.5"/><circle cx="552.5" cy="342.6" r="3.5"/><circle cx="460.1" cy="389.5" r="3.5"/><circle cx="554.4" cy="338.3" r="3.5"/><circle cx="418.1" cy="417.2" r="3.5"/><circle cx="524.4" cy="363.6" r="3.5"/><circle cx="485.4" cy="379.7" r="3.5"/><circle cx="482.3" cy="398.9" r="3.5"/><circle cx="514.8" cy="362.1" r="3.5"/><circle cx="562.3" cy="316.2" r="3.5"/><circle cx="522.7" cy="352.6" r="3.5"/><circle cx="537.0" cy="352.7" r="3.5"/><circle cx="494.1" cy="390.3" r="3.5"/><circle cx="473.2" cy="402.1" r="3.5"/><circle cx="556.2" cy="339.0" r="3.5"/><circle cx="524.2" cy="350.4" r="3.5"/><circle cx="512.1" cy="364.4" r="3.5"/><circle cx="500.3" cy="370.5" r="3.5"/><circle cx="559.9" cy="331.2" r="3.5"/><circle cx="427.2" cy="406.3" r="3.5"/><circle cx="489.2" cy="385.9" r="3.5"/><circle cx="410.0" cy="418.6" r="3.5"/><circle cx="414.5" cy="415.0" r="3.5"/><circle cx="523.1" cy="367.4" r="3.5"/><circle cx="428.3" cy="409.1" r="3.5"/><circle cx="450.1" cy="398.0" r="3.5"/><circle cx="425.8" cy="410.9" r="3.5"/><circle cx="428.5" cy="417.0" r="3.5"/><circle cx="460.1" cy="406.0" r="3.5"/><circle cx="575.9" cy="312.1" r="3.5"/><circle cx="521.3" cy="375.7" r="3.5"/><circle cx="512.3" cy="367.3" r="3.5"/><circle cx="536.2" cy="369.4" r="3.5"/><circle cx="324.4" cy="427.6" r="3.5"/><circle cx="486.0" cy="383.3" r="3.5"/><circle cx="500.9" cy="384.7" r="3.5"/><circle cx="506.6" cy="367.2" r="3.5"/><circle cx="519.0" cy="356.7" r="3.5"/><circle cx="440.4" cy="402.4" r="3.5"/><circle cx="435.9" cy="411.3" r="3.5"/><circle cx="516.1" cy="367.1" r="3.5"/><circle cx="489.5" cy="384.2" r="3.5"/><circle cx="403.8" cy="416.0" r="3.5"/><circle cx="345.3" cy="428.3" r="3.5"/><circle cx="490.7" cy="380.7" r="3.5"/><circle cx="424.1" cy="410.9" r="3.5"/><circle cx="505.4" cy="386.0" r="3.5"/><circle cx="448.1" cy="412.1" r="3.5"/><circle cx="487.3" cy="388.8" r="3.5"/><circle cx="431.6" cy="405.1" r="3.5"/><circle cx="513.8" cy="363.6" r="3.5"/><circle cx="424.1" cy="415.9" r="3.5"/><circle cx="522.1" cy="363.7" r="3.5"/><circle cx="506.6" cy="388.0" r="3.5"/><circle cx="419.1" cy="409.6" r="3.5"/><circle cx="549.3" cy="350.1" r="3.5"/><circle cx="552.1" cy="332.8" r="3.5"/><circle cx="458.5" cy="408.1" r="3.5"/><circle cx="572.2" cy="321.0" r="3.5"/><circle cx="495.9" cy="389.6" r="3.5"/><circle cx="578.9" cy="306.3" r="3.5"/><circle cx="455.8" cy="395.5" r="3.5"/><circle cx="434.5" cy="406.3" r="3.5"/><circle cx="505.9" cy="369.2" r="3.5"/><circle cx="466.6" cy="391.0" r="3.5"/><circle cx="524.4" cy="373.8" r="3.5"/><circle cx="512.4" cy="382.5" r="3.5"/><circle cx="352.3" cy="424.6" r="3.5"/><circle cx="450.3" cy="399.9" r="3.5"/><circle cx="423.2" cy="413.3" r="3.5"/><circle cx="488.8" cy="379.7" r="3.5"/><circle cx="443.6" cy="413.7" r="3.5"/><circle cx="526.6" cy="363.6" r="3.5"/><circle cx="490.7" cy="388.1" r="3.5"/><circle cx="418.4" cy="413.3" r="3.5"/><circle cx="570.5" cy="297.7" r="3.5"/><circle cx="521.8" cy="356.3" r="3.5"/><circle cx="549.5" cy="329.6" r="3.5"/><circle cx="484.3" cy="390.8" r="3.5"/><circle cx="552.9" cy="340.4" r="3.5"/><circle cx="429.2" cy="409.5" r="3.5"/><circle cx="411.4" cy="414.7" r="3.5"/><circle cx="495.9" cy="394.1" r="3.5"/><circle cx="448.2" cy="401.2" r="3.5"/><circle cx="346.3" cy="422.0" r="3.5"/><circle cx="533.9" cy="352.8" r="3.5"/><circle cx="530.1" cy="350.8" r="3.5"/><circle cx="488.8" cy="381.8" r="3.5"/><circle cx="446.3" cy="408.7" r="3.5"/><circle cx="494.3" cy="396.4" r="3.5"/><circle cx="510.1" cy="355.6" r="3.5"/><circle cx="446.9" cy="406.0" r="3.5"/><circle cx="535.2" cy="354.6" r="3.5"/><circle cx="533.3" cy="354.7" r="3.5"/><circle cx="565.3" cy="326.1" r="3.5"/><circle cx="486.4" cy="384.0" r="3.5"/><circle cx="423.4" cy="417.5" r="3.5"/><circle cx="480.0" cy="386.8" r="3.5"/><circle cx="419.2" cy="414.1" r="3.5"/><circle cx="508.4" cy="372.9" r="3.5"/><circle cx="441.3" cy="408.7" r="3.5"/><circle cx="352.9" cy="423.4" r="3.5"/><circle cx="352.7" cy="317.1" r="3.5"/><circle cx="401.5" cy="345.0" r="3.5"/><circle cx="387.5" cy="363.0" r="3.5"/><circle cx="394.0" cy="367.5" r="3.5"/><circle cx="678.5" cy="90.5" r="3.5"/><circle cx="674.9" cy="127.7" r="3.5"/><circle cx="632.1" cy="218.9" r="3.5"/><circle cx="642.3" cy="222.4" r="3.5"/><circle cx="662.1" cy="215.4" r="3.5"/><circle cx="644.4" cy="237.3" r="3.5"/><circle cx="628.4" cy="235.0" r="3.5"/><circle cx="619.9" cy="240.8" r="3.5"/><circle cx="620.3" cy="241.5" r="3.5"/><circle cx="624.3" cy="248.9" r="3.5"/><circle cx="615.5" cy="251.8" r="3.5"/><circle cx="616.1" cy="254.8" r="3.5"/><circle cx="626.3" cy="256.8" r="3.5"/><circle cx="594.9" cy="253.3" r="3.5"/><circle cx="619.9" cy="269.0" r="3.5"/><circle cx="595.2" cy="272.8" r="3.5"/><circle cx="600.1" cy="279.2" r="3.5"/><circle cx="591.9" cy="288.3" r="3.5"/><circle cx="617.9" cy="287.4" r="3.5"/><circle cx="619.0" cy="290.3" r="3.5"/><circle cx="623.4" cy="300.5" r="3.5"/><circle cx="584.7" cy="293.8" r="3.5"/><circle cx="589.9" cy="294.7" r="3.5"/><circle cx="580.6" cy="297.6" r="3.5"/><circle cx="597.2" cy="297.6" r="3.5"/><circle cx="321.9" cy="405.7" r="3.5"/><circle cx="330.1" cy="408.5" r="3.5"/><circle cx="353.0" cy="405.2" r="3.5"/><circle cx="430.1" cy="375.1" r="3.5"/><circle cx="426.8" cy="383.9" r="3.5"/><circle cx="466.7" cy="368.6" r="3.5"/><circle cx="476.0" cy="370.2" r="3.5"/><circle cx="315.3" cy="427.0" r="3.5"/></g>
<path d="M112.5,450.5V442M112.5,19.5V27M146.5,450.5V445M146.5,19.5V25M180.5,450.5V445M180.5,19.5V25M213.5,450.5V445M213.5,19.5V25M247.5,450.5V442M247.5,19.5V27M281.5,450.5V445M281.5,19.5V25M315.5,450.5V445M315.5,19.5V25M349.5,450.5V445M349.5,19.5V25M382.5,450.5V442M382.5,19.5V27M416.5,450.5V445M416.5,19.5V25M450.5,450.5V445M450.5,19.5V25M484.5,450.5V445M484.5,19.5V25M518.5,450.5V442M518.5,19.5V27M551.5,450.5V445M551.5,19.5V25M585.5,450.5V445M585.5,19.5V25M619.5,450.5V445M619.5,19.5V25M653.5,450.5V442M653.5,19.5V27M687.5,450.5V445M687.5,19.5V25M720.5,450.5V445M720.5,19.5V25M754.5,450.5V445M754.5,19.5V25M788.5,450.5V442M788.5,19.5V27M98.5,448.5H104M795.5,448.5H791M98.5,428.5H107M795.5,428.5H789M98.5,409.5H104M795.5,409.5H791M98.5,390.5H104M795.5,390.5H791M98.5,370.5H104M795.5,370.5H791M98.5,351.5H104M795.5,351.5H791M98.5,331.5H107M795.5,331.5H789M98.5,312.5H104M795.5,312.5H791M98.5,293.5H104M795.5,293.5H791M98.5,273.5H104M795.5,273.5H791M98.5,254.5H104M795.5,254.5H791M98.5,234.5H107M795.5,234.5H789M98.5,215.5H104M795.5,215.5H791M98.5,196.5H104M795.5,196.5H791M98.5,176.5H104M795.5,176.5H791M98.5,157.5H104M795.5,157.5H791M98.5,137.5H107M795.5,137.5H789M98.5,118.5H104M795.5,118.5H791M98.5,99.5H104M795.5,99.5H791M98.5,79.5H104M795.5,79.5H791M98.5,60.5H104M795.5,60.5H791M98.5,41.5H107M795.5,41.5H789M98.5,21.5H104M795.5,21.5H791" stroke="#000" stroke-width="1" fill="none"/><rect x="98.5" y="19.5" width="697.0" height="431.0" fill="none" stroke="#000" stroke-width="1"/><text x="110.9" y="480.7" text-anchor="middle" class="n" textLength="38.9" lengthAdjust="spacingAndGlyphs">0.0</text><text x="246.9" y="480.7" text-anchor="middle" class="n" textLength="38.9" lengthAdjust="spacingAndGlyphs">0.2</text><text x="382.1" y="480.7" text-anchor="middle" class="n" textLength="38.9" lengthAdjust="spacingAndGlyphs">0.4</text><text x="517.2" y="480.7" text-anchor="middle" class="n" textLength="38.9" lengthAdjust="spacingAndGlyphs">0.6</text><text x="652.3" y="480.7" text-anchor="middle" class="n" textLength="38.9" lengthAdjust="spacingAndGlyphs">0.8</text><path d="M763 0H583V1147Q518 1085 412.5 1023T223 930V1104Q374 1175 487 1276T647 1472H763Z" transform="translate(768.72,480.7) scale(0.01348,-0.01348)" fill="#000" stroke="#000" stroke-width="22"/><text x="808.2" y="480.7" text-anchor="end" class="n" textLength="23.3" lengthAdjust="spacingAndGlyphs">.0</text><path d="M763 0H583V1147Q518 1085 412.5 1023T223 930V1104Q374 1175 487 1276T647 1472H763Z" transform="translate(52.72,437.6) scale(0.01348,-0.01348)" fill="#000" stroke="#000" stroke-width="22"/><text x="91.9" y="437.6" text-anchor="end" class="n" textLength="23.3" lengthAdjust="spacingAndGlyphs">.0</text><path d="M763 0H583V1147Q518 1085 412.5 1023T223 930V1104Q374 1175 487 1276T647 1472H763Z" transform="translate(52.72,340.6) scale(0.01348,-0.01348)" fill="#000" stroke="#000" stroke-width="22"/><text x="91.9" y="340.6" text-anchor="end" class="n" textLength="23.3" lengthAdjust="spacingAndGlyphs">.5</text><text x="91.9" y="243.7" text-anchor="end" class="n" textLength="38.9" lengthAdjust="spacingAndGlyphs">2.0</text><text x="91.9" y="146.7" text-anchor="end" class="n" textLength="38.9" lengthAdjust="spacingAndGlyphs">2.5</text><text x="91.9" y="49.7" text-anchor="end" class="n" textLength="38.9" lengthAdjust="spacingAndGlyphs">3.0</text>
<text x="16.5" y="39.5" class="t" style="font-size:29.5px">(a)</text>
<text x="119.3" y="59.5" class="t"><tspan class="i">θ</tspan><tspan class="i" dy="5" style="font-size:20px">i</tspan></text>
<text x="166.2" y="59.5" class="t" style="font-size:29.3px" textLength="42.8" lengthAdjust="spacingAndGlyphs">40°</text>
<path d="M151.2,47.5h14.1v2.7h-14.1zM151.2,54.7h14.1v2.7h-14.1z" fill="#000"/>
<text transform="translate(34.1,262.5) rotate(-90)" class="t"><tspan style="font-size:26.3px" dy="1.0">&lt;</tspan><tspan class="i" dy="-1.0" dx="0.3" style="font-size:29px">n</tspan><tspan class="i" dy="4.3" dx="0.6" style="font-size:18.5px">s</tspan><tspan dy="-3.3" dx="1.2" style="font-size:26.3px">&gt;</tspan></text>
 <text x="447.5" y="525" text-anchor="middle" class="t i">β</text>
<text x="780.9" y="379.8" text-anchor="end" class="t" style="fill:#0066ff;font-size:28.8px" textLength="78.0" lengthAdjust="spacingAndGlyphs">March</text>
<text x="780.9" y="418.2" text-anchor="end" class="t" style="fill:#ff0000;font-size:28.8px" textLength="56.2" lengthAdjust="spacingAndGlyphs">April</text>
<path d="M941.1,429.3 L947.0,429.1 L953.0,428.9 L958.9,428.8 L964.9,428.6 L970.9,428.5 L976.8,428.4 L982.8,428.4 L988.8,428.3 L994.7,428.2 L1000.7,428.2 L1006.7,428.2 L1012.7,428.1 L1018.6,428.1 L1024.6,428.1 L1030.6,428.1 L1036.6,428.1 L1042.5,428.1 L1048.5,428.1 L1054.5,428.1 L1060.5,428.1 L1066.4,428.1 L1072.4,428.1 L1078.4,428.0 L1084.4,428.0 L1090.3,427.9 L1096.3,427.9 L1102.3,427.8 L1108.3,427.6 L1114.2,427.5 L1120.2,427.4 L1126.2,427.2 L1132.1,427.0 L1138.1,426.8 L1144.1,426.5 L1150.0,426.3 L1156.0,425.9 L1162.0,425.6 L1167.9,425.2 L1173.9,424.8 L1179.8,424.4 L1185.8,423.9 L1191.7,423.3 L1197.7,422.8 L1203.6,422.1 L1209.5,421.5 L1215.5,420.8 L1221.4,420.0 L1227.3,419.2 L1233.2,418.3 L1239.2,417.4 L1245.1,416.4 L1251.0,415.4 L1256.9,414.2 L1262.8,413.1 L1268.7,411.9 L1274.6,410.6 L1280.4,409.2 L1286.3,407.8 L1292.1,406.3 L1297.9,404.7 L1303.7,403.1 L1309.4,401.4 L1315.2,399.6 L1320.8,397.7 L1326.5,395.7 L1332.1,393.7 L1337.7,391.6 L1343.2,389.4 L1348.7,387.1 L1354.2,384.6 L1359.6,382.2 L1364.9,379.6 L1370.2,376.9 L1375.5,374.1 L1380.6,371.3 L1385.8,368.3 L1390.8,365.2 L1395.8,362.0 L1400.7,358.7 L1405.6,355.3 L1410.4,351.8 L1415.1,348.2 L1419.7,344.5 L1424.3,340.8 L1428.8,336.9 L1433.2,332.9 L1437.6,328.9 L1441.8,324.7 L1446.0,320.5 L1450.2,316.2 L1454.2,311.8 L1458.2,307.3 L1462.0,302.8 L1465.9,298.2 L1469.6,293.6 L1473.2,288.8 L1476.8,284.0 L1480.2,279.2 L1483.7,274.2 L1487.0,269.3 L1490.2,264.2 L1493.4,259.2 L1496.5,254.1 L1499.6,248.9 L1502.6,243.7 L1505.5,238.4 L1508.3,233.1 L1511.1,227.8 L1513.8,222.4 L1516.5,217.1 L1519.1,211.6 L1521.7,206.2 L1524.2,200.7 L1526.6,195.2 L1529.0,189.7 L1531.4,184.2 L1533.7,178.6 L1535.9,173.1 L1538.1,167.5 L1540.3,161.9 L1542.4,156.3 L1544.5,150.7 L1546.5,145.1 L1548.5,139.5 L1550.5,133.8 L1552.4,128.2 L1554.3,122.5 L1556.1,116.9 L1557.9,111.2 L1559.7,105.5 L1561.5,99.8 L1563.2,94.2 L1564.9,88.5 L1566.5,82.8 L1568.2,77.1 L1569.8,71.4 L1571.4,65.7 L1572.9,60.0 L1574.5,54.3" fill="none" stroke="#808080" stroke-width="3" clip-path="url(#clipc)"/>
<g fill="#0066ff" fill-opacity="0.2"><circle cx="1181.6" cy="409.6" r="3.5"/><circle cx="1232.7" cy="414.0" r="3.5"/><circle cx="1184.3" cy="402.2" r="3.5"/><circle cx="1194.3" cy="408.1" r="3.5"/><circle cx="1274.2" cy="390.6" r="3.5"/><circle cx="1258.4" cy="389.0" r="3.5"/><circle cx="1336.6" cy="400.7" r="3.5"/><circle cx="1218.2" cy="403.3" r="3.5"/><circle cx="1198.3" cy="404.9" r="3.5"/><circle cx="1292.7" cy="395.4" r="3.5"/><circle cx="1167.4" cy="405.0" r="3.5"/><circle cx="1335.5" cy="402.5" r="3.5"/><circle cx="1409.2" cy="404.1" r="3.5"/><circle cx="1321.7" cy="395.5" r="3.5"/><circle cx="1213.3" cy="393.4" r="3.5"/><circle cx="1280.7" cy="408.6" r="3.5"/><circle cx="1235.5" cy="406.2" r="3.5"/><circle cx="1335.4" cy="401.4" r="3.5"/><circle cx="1233.7" cy="403.7" r="3.5"/><circle cx="1217.1" cy="417.1" r="3.5"/><circle cx="1271.5" cy="401.3" r="3.5"/><circle cx="1205.3" cy="406.6" r="3.5"/><circle cx="1219.7" cy="391.8" r="3.5"/><circle cx="1214.1" cy="399.8" r="3.5"/><circle cx="1304.5" cy="393.5" r="3.5"/><circle cx="1228.6" cy="402.5" r="3.5"/><circle cx="1252.8" cy="403.9" r="3.5"/><circle cx="1185.8" cy="400.2" r="3.5"/><circle cx="1228.4" cy="413.3" r="3.5"/><circle cx="1360.1" cy="382.7" r="3.5"/><circle cx="1303.6" cy="395.3" r="3.5"/><circle cx="1267.0" cy="402.5" r="3.5"/><circle cx="1225.5" cy="395.2" r="3.5"/><circle cx="1232.9" cy="406.1" r="3.5"/><circle cx="1189.9" cy="407.6" r="3.5"/><circle cx="1319.0" cy="395.2" r="3.5"/><circle cx="1217.7" cy="414.6" r="3.5"/><circle cx="1239.4" cy="402.8" r="3.5"/><circle cx="1259.7" cy="403.1" r="3.5"/><circle cx="1257.2" cy="395.4" r="3.5"/><circle cx="1243.5" cy="391.7" r="3.5"/><circle cx="1309.8" cy="393.4" r="3.5"/><circle cx="1236.0" cy="400.5" r="3.5"/><circle cx="1257.3" cy="398.6" r="3.5"/><circle cx="1182.7" cy="408.8" r="3.5"/><circle cx="1195.8" cy="390.5" r="3.5"/><circle cx="1354.2" cy="382.9" r="3.5"/><circle cx="1310.2" cy="384.3" r="3.5"/><circle cx="1287.4" cy="408.9" r="3.5"/><circle cx="1220.7" cy="399.6" r="3.5"/><circle cx="1219.2" cy="399.9" r="3.5"/><circle cx="1356.7" cy="382.8" r="3.5"/><circle cx="1351.4" cy="401.9" r="3.5"/><circle cx="1194.4" cy="401.7" r="3.5"/><circle cx="1250.3" cy="403.2" r="3.5"/><circle cx="1263.5" cy="388.2" r="3.5"/><circle cx="1186.8" cy="410.6" r="3.5"/><circle cx="1245.8" cy="404.5" r="3.5"/><circle cx="1236.0" cy="405.9" r="3.5"/><circle cx="1255.4" cy="409.4" r="3.5"/><circle cx="1307.1" cy="397.0" r="3.5"/><circle cx="1184.3" cy="403.6" r="3.5"/><circle cx="1276.5" cy="405.2" r="3.5"/><circle cx="1235.0" cy="405.1" r="3.5"/><circle cx="1243.2" cy="400.6" r="3.5"/><circle cx="1214.1" cy="403.5" r="3.5"/><circle cx="1235.5" cy="399.4" r="3.5"/><circle cx="1299.7" cy="404.1" r="3.5"/><circle cx="1265.3" cy="407.1" r="3.5"/><circle cx="1198.2" cy="403.9" r="3.5"/><circle cx="1216.7" cy="414.5" r="3.5"/><circle cx="1360.0" cy="378.3" r="3.5"/><circle cx="1236.0" cy="401.0" r="3.5"/><circle cx="1191.5" cy="413.6" r="3.5"/><circle cx="1240.3" cy="399.7" r="3.5"/><circle cx="1318.5" cy="384.9" r="3.5"/><circle cx="1190.7" cy="411.8" r="3.5"/><circle cx="1209.2" cy="406.7" r="3.5"/><circle cx="1181.3" cy="398.5" r="3.5"/><circle cx="1260.4" cy="406.3" r="3.5"/><circle cx="1219.2" cy="396.9" r="3.5"/><circle cx="1208.6" cy="395.5" r="3.5"/><circle cx="1224.5" cy="402.0" r="3.5"/><circle cx="1323.9" cy="393.1" r="3.5"/><circle cx="1213.0" cy="396.7" r="3.5"/><circle cx="1181.7" cy="402.9" r="3.5"/><circle cx="1213.8" cy="397.2" r="3.5"/><circle cx="1194.5" cy="404.3" r="3.5"/><circle cx="1246.5" cy="401.9" r="3.5"/><circle cx="1210.9" cy="407.8" r="3.5"/><circle cx="1217.0" cy="400.4" r="3.5"/><circle cx="1177.3" cy="398.4" r="3.5"/><circle cx="1179.1" cy="398.2" r="3.5"/><circle cx="1206.4" cy="402.1" r="3.5"/><circle cx="1223.2" cy="412.3" r="3.5"/><circle cx="1220.7" cy="408.2" r="3.5"/><circle cx="1364.8" cy="385.9" r="3.5"/><circle cx="1241.0" cy="408.1" r="3.5"/><circle cx="1223.6" cy="395.9" r="3.5"/><circle cx="1212.5" cy="409.4" r="3.5"/><circle cx="1190.6" cy="402.0" r="3.5"/><circle cx="1192.4" cy="408.3" r="3.5"/><circle cx="1318.8" cy="402.5" r="3.5"/><circle cx="1218.7" cy="401.4" r="3.5"/><circle cx="1217.7" cy="405.1" r="3.5"/><circle cx="1334.7" cy="386.6" r="3.5"/><circle cx="1329.4" cy="395.8" r="3.5"/><circle cx="1355.9" cy="403.2" r="3.5"/><circle cx="1217.4" cy="427.9" r="3.5"/><circle cx="1269.3" cy="405.4" r="3.5"/><circle cx="1345.0" cy="395.3" r="3.5"/><circle cx="1201.1" cy="397.9" r="3.5"/><circle cx="1299.7" cy="406.6" r="3.5"/><circle cx="1223.5" cy="392.8" r="3.5"/><circle cx="1272.9" cy="395.6" r="3.5"/><circle cx="1208.1" cy="405.6" r="3.5"/><circle cx="1203.9" cy="396.6" r="3.5"/><circle cx="1262.2" cy="411.1" r="3.5"/><circle cx="1308.9" cy="406.6" r="3.5"/><circle cx="1208.2" cy="400.1" r="3.5"/><circle cx="1343.6" cy="389.8" r="3.5"/><circle cx="1187.9" cy="397.0" r="3.5"/><circle cx="1215.4" cy="394.8" r="3.5"/><circle cx="1251.8" cy="404.6" r="3.5"/><circle cx="1366.1" cy="397.7" r="3.5"/><circle cx="1226.6" cy="405.0" r="3.5"/><circle cx="1354.6" cy="395.8" r="3.5"/><circle cx="1215.3" cy="399.8" r="3.5"/><circle cx="1367.0" cy="395.0" r="3.5"/><circle cx="1255.5" cy="392.3" r="3.5"/><circle cx="1203.8" cy="403.7" r="3.5"/><circle cx="1215.1" cy="412.1" r="3.5"/><circle cx="1232.5" cy="410.8" r="3.5"/><circle cx="1220.0" cy="400.2" r="3.5"/><circle cx="1227.5" cy="400.7" r="3.5"/><circle cx="1198.6" cy="411.7" r="3.5"/><circle cx="1238.7" cy="413.5" r="3.5"/><circle cx="1263.5" cy="391.6" r="3.5"/><circle cx="1241.8" cy="399.6" r="3.5"/><circle cx="1323.8" cy="399.0" r="3.5"/><circle cx="1194.5" cy="410.8" r="3.5"/><circle cx="1218.9" cy="398.0" r="3.5"/><circle cx="1191.5" cy="407.7" r="3.5"/><circle cx="1228.6" cy="400.9" r="3.5"/><circle cx="1201.5" cy="417.4" r="3.5"/><circle cx="1233.7" cy="405.2" r="3.5"/><circle cx="1242.4" cy="401.4" r="3.5"/><circle cx="1168.9" cy="404.7" r="3.5"/><circle cx="1269.1" cy="407.7" r="3.5"/><circle cx="1197.8" cy="407.7" r="3.5"/><circle cx="1182.4" cy="398.9" r="3.5"/><circle cx="1199.5" cy="405.1" r="3.5"/><circle cx="1208.2" cy="395.6" r="3.5"/><circle cx="1291.7" cy="394.3" r="3.5"/><circle cx="1180.0" cy="398.2" r="3.5"/><circle cx="1235.6" cy="394.3" r="3.5"/><circle cx="1256.6" cy="397.2" r="3.5"/><circle cx="1225.8" cy="396.9" r="3.5"/><circle cx="1353.0" cy="398.4" r="3.5"/><circle cx="1212.6" cy="408.1" r="3.5"/><circle cx="1187.5" cy="403.0" r="3.5"/><circle cx="1224.5" cy="396.1" r="3.5"/><circle cx="1347.6" cy="401.5" r="3.5"/><circle cx="1228.7" cy="390.3" r="3.5"/><circle cx="1359.2" cy="374.7" r="3.5"/><circle cx="1222.1" cy="407.4" r="3.5"/><circle cx="1246.7" cy="406.1" r="3.5"/><circle cx="1219.3" cy="409.0" r="3.5"/><circle cx="1188.2" cy="403.1" r="3.5"/><circle cx="1204.8" cy="396.3" r="3.5"/><circle cx="1198.7" cy="400.9" r="3.5"/><circle cx="1227.9" cy="406.3" r="3.5"/><circle cx="1323.9" cy="390.8" r="3.5"/><circle cx="1393.4" cy="379.9" r="3.5"/><circle cx="1245.8" cy="393.3" r="3.5"/><circle cx="1229.6" cy="395.6" r="3.5"/><circle cx="1321.5" cy="404.1" r="3.5"/><circle cx="1279.0" cy="403.4" r="3.5"/><circle cx="1362.0" cy="381.5" r="3.5"/><circle cx="1227.8" cy="396.2" r="3.5"/><circle cx="1270.8" cy="397.2" r="3.5"/><circle cx="1281.7" cy="403.9" r="3.5"/><circle cx="1217.6" cy="396.1" r="3.5"/><circle cx="1246.9" cy="401.0" r="3.5"/><circle cx="1239.2" cy="389.0" r="3.5"/><circle cx="1306.7" cy="389.0" r="3.5"/><circle cx="1338.8" cy="398.9" r="3.5"/><circle cx="1194.8" cy="409.0" r="3.5"/><circle cx="1225.4" cy="395.8" r="3.5"/><circle cx="1194.1" cy="399.7" r="3.5"/><circle cx="1232.9" cy="407.5" r="3.5"/><circle cx="1221.3" cy="400.6" r="3.5"/><circle cx="1233.9" cy="399.2" r="3.5"/><circle cx="1209.8" cy="406.5" r="3.5"/><circle cx="1215.9" cy="404.4" r="3.5"/><circle cx="1313.9" cy="406.6" r="3.5"/><circle cx="1209.2" cy="408.2" r="3.5"/><circle cx="1242.7" cy="398.6" r="3.5"/><circle cx="1222.2" cy="402.3" r="3.5"/><circle cx="1227.5" cy="402.4" r="3.5"/><circle cx="1252.5" cy="393.2" r="3.5"/><circle cx="1220.3" cy="397.1" r="3.5"/><circle cx="1381.9" cy="398.9" r="3.5"/><circle cx="1180.8" cy="396.5" r="3.5"/><circle cx="1231.7" cy="408.8" r="3.5"/><circle cx="1252.9" cy="403.5" r="3.5"/><circle cx="1330.0" cy="395.2" r="3.5"/><circle cx="1334.9" cy="400.4" r="3.5"/><circle cx="1220.4" cy="406.0" r="3.5"/><circle cx="1248.7" cy="409.5" r="3.5"/><circle cx="1172.8" cy="403.9" r="3.5"/><circle cx="1336.1" cy="393.7" r="3.5"/><circle cx="1238.4" cy="400.9" r="3.5"/><circle cx="1295.7" cy="412.6" r="3.5"/><circle cx="1203.7" cy="409.2" r="3.5"/><circle cx="1350.0" cy="385.5" r="3.5"/><circle cx="1204.3" cy="401.7" r="3.5"/><circle cx="1227.4" cy="398.5" r="3.5"/><circle cx="1291.1" cy="399.7" r="3.5"/><circle cx="1248.1" cy="403.3" r="3.5"/><circle cx="1261.7" cy="416.0" r="3.5"/><circle cx="1182.2" cy="395.0" r="3.5"/><circle cx="1219.5" cy="409.4" r="3.5"/><circle cx="1363.5" cy="396.4" r="3.5"/><circle cx="1200.9" cy="399.8" r="3.5"/><circle cx="1237.1" cy="401.5" r="3.5"/><circle cx="1168.1" cy="404.0" r="3.5"/><circle cx="1203.9" cy="404.0" r="3.5"/><circle cx="1287.7" cy="406.7" r="3.5"/><circle cx="1202.4" cy="395.0" r="3.5"/><circle cx="1213.3" cy="411.3" r="3.5"/><circle cx="1257.8" cy="399.1" r="3.5"/><circle cx="1332.3" cy="408.8" r="3.5"/><circle cx="1228.6" cy="405.3" r="3.5"/><circle cx="1245.9" cy="409.8" r="3.5"/><circle cx="1291.9" cy="403.5" r="3.5"/><circle cx="1222.4" cy="409.6" r="3.5"/><circle cx="1258.6" cy="401.9" r="3.5"/><circle cx="1254.9" cy="396.4" r="3.5"/><circle cx="1383.9" cy="395.6" r="3.5"/><circle cx="1350.9" cy="400.4" r="3.5"/><circle cx="1195.0" cy="415.8" r="3.5"/><circle cx="1212.9" cy="391.3" r="3.5"/><circle cx="1286.5" cy="398.7" r="3.5"/><circle cx="1375.4" cy="400.7" r="3.5"/><circle cx="1193.4" cy="397.1" r="3.5"/><circle cx="1229.4" cy="401.4" r="3.5"/><circle cx="1218.4" cy="416.0" r="3.5"/><circle cx="1371.9" cy="404.7" r="3.5"/><circle cx="1243.0" cy="396.8" r="3.5"/><circle cx="1205.5" cy="412.0" r="3.5"/><circle cx="1216.1" cy="410.4" r="3.5"/><circle cx="1221.5" cy="407.8" r="3.5"/><circle cx="1251.3" cy="404.3" r="3.5"/><circle cx="1227.7" cy="404.3" r="3.5"/><circle cx="1217.9" cy="398.0" r="3.5"/><circle cx="1264.8" cy="397.9" r="3.5"/><circle cx="1190.4" cy="408.3" r="3.5"/><circle cx="1232.4" cy="403.6" r="3.5"/><circle cx="1200.6" cy="414.5" r="3.5"/><circle cx="1261.7" cy="399.3" r="3.5"/><circle cx="1337.6" cy="374.8" r="3.5"/><circle cx="1245.7" cy="400.1" r="3.5"/><circle cx="1192.7" cy="405.7" r="3.5"/><circle cx="1316.5" cy="400.9" r="3.5"/><circle cx="1178.4" cy="405.7" r="3.5"/><circle cx="1223.4" cy="398.0" r="3.5"/><circle cx="1203.0" cy="412.4" r="3.5"/><circle cx="1222.0" cy="399.1" r="3.5"/><circle cx="1189.7" cy="408.2" r="3.5"/><circle cx="1205.1" cy="402.0" r="3.5"/><circle cx="1291.8" cy="391.4" r="3.5"/><circle cx="1209.1" cy="411.9" r="3.5"/><circle cx="1226.4" cy="387.6" r="3.5"/><circle cx="1224.3" cy="397.8" r="3.5"/><circle cx="1205.3" cy="406.2" r="3.5"/><circle cx="1179.2" cy="403.4" r="3.5"/><circle cx="1234.2" cy="407.3" r="3.5"/><circle cx="1216.6" cy="402.7" r="3.5"/><circle cx="1234.2" cy="399.9" r="3.5"/><circle cx="1199.0" cy="416.3" r="3.5"/><circle cx="1209.9" cy="402.3" r="3.5"/><circle cx="1195.0" cy="403.2" r="3.5"/><circle cx="1193.9" cy="398.1" r="3.5"/><circle cx="1369.8" cy="384.1" r="3.5"/><circle cx="1225.1" cy="407.0" r="3.5"/><circle cx="1259.2" cy="405.1" r="3.5"/><circle cx="1215.7" cy="403.4" r="3.5"/><circle cx="1229.4" cy="398.6" r="3.5"/><circle cx="1324.4" cy="402.8" r="3.5"/><circle cx="1272.3" cy="390.0" r="3.5"/><circle cx="1339.3" cy="392.5" r="3.5"/><circle cx="1260.7" cy="399.9" r="3.5"/><circle cx="1204.6" cy="398.9" r="3.5"/><circle cx="1242.3" cy="403.3" r="3.5"/><circle cx="1248.2" cy="397.9" r="3.5"/><circle cx="1209.8" cy="398.8" r="3.5"/><circle cx="1199.8" cy="414.3" r="3.5"/><circle cx="1318.2" cy="403.7" r="3.5"/><circle cx="1237.2" cy="410.0" r="3.5"/><circle cx="1207.1" cy="404.0" r="3.5"/><circle cx="1190.8" cy="409.6" r="3.5"/><circle cx="1200.5" cy="408.4" r="3.5"/><circle cx="1170.4" cy="412.5" r="3.5"/><circle cx="1272.9" cy="416.2" r="3.5"/><circle cx="1230.1" cy="401.5" r="3.5"/><circle cx="1228.2" cy="404.6" r="3.5"/><circle cx="1171.4" cy="406.0" r="3.5"/><circle cx="1231.3" cy="381.3" r="3.5"/><circle cx="1350.1" cy="381.6" r="3.5"/><circle cx="1195.9" cy="404.3" r="3.5"/><circle cx="1359.4" cy="399.0" r="3.5"/><circle cx="1177.7" cy="402.5" r="3.5"/><circle cx="1223.6" cy="410.1" r="3.5"/><circle cx="1216.4" cy="411.2" r="3.5"/><circle cx="1188.9" cy="402.2" r="3.5"/><circle cx="1231.9" cy="411.6" r="3.5"/><circle cx="1184.1" cy="414.1" r="3.5"/><circle cx="1188.0" cy="407.0" r="3.5"/><circle cx="1192.3" cy="398.9" r="3.5"/><circle cx="1217.1" cy="412.3" r="3.5"/><circle cx="1205.6" cy="402.9" r="3.5"/><circle cx="1231.6" cy="400.6" r="3.5"/><circle cx="1197.5" cy="404.8" r="3.5"/><circle cx="1185.0" cy="401.8" r="3.5"/><circle cx="1202.0" cy="410.1" r="3.5"/><circle cx="1261.3" cy="406.5" r="3.5"/><circle cx="1192.7" cy="411.1" r="3.5"/><circle cx="1343.8" cy="400.2" r="3.5"/><circle cx="1252.1" cy="397.0" r="3.5"/><circle cx="1314.7" cy="397.0" r="3.5"/><circle cx="1213.7" cy="408.8" r="3.5"/><circle cx="1242.0" cy="400.0" r="3.5"/><circle cx="1198.7" cy="420.7" r="3.5"/><circle cx="1305.6" cy="397.1" r="3.5"/><circle cx="1189.0" cy="401.2" r="3.5"/><circle cx="1347.6" cy="404.9" r="3.5"/><circle cx="1275.5" cy="405.8" r="3.5"/><circle cx="1209.4" cy="403.6" r="3.5"/><circle cx="1213.5" cy="402.2" r="3.5"/><circle cx="1240.1" cy="405.3" r="3.5"/><circle cx="1231.3" cy="408.1" r="3.5"/><circle cx="1217.0" cy="408.0" r="3.5"/><circle cx="1212.3" cy="401.8" r="3.5"/><circle cx="1337.4" cy="399.5" r="3.5"/><circle cx="1228.0" cy="408.2" r="3.5"/><circle cx="1207.6" cy="408.3" r="3.5"/><circle cx="1239.9" cy="383.5" r="3.5"/><circle cx="1202.5" cy="398.8" r="3.5"/><circle cx="1205.3" cy="399.3" r="3.5"/><circle cx="1211.8" cy="402.3" r="3.5"/><circle cx="1199.4" cy="405.1" r="3.5"/><circle cx="1222.4" cy="408.8" r="3.5"/><circle cx="1190.1" cy="407.8" r="3.5"/><circle cx="1318.8" cy="396.9" r="3.5"/><circle cx="1191.1" cy="404.5" r="3.5"/><circle cx="1189.2" cy="414.1" r="3.5"/><circle cx="1280.5" cy="396.7" r="3.5"/><circle cx="1317.7" cy="400.4" r="3.5"/><circle cx="1221.8" cy="412.8" r="3.5"/><circle cx="1295.6" cy="402.0" r="3.5"/><circle cx="1214.2" cy="391.3" r="3.5"/><circle cx="1175.6" cy="407.7" r="3.5"/><circle cx="1201.8" cy="401.8" r="3.5"/><circle cx="1201.2" cy="403.4" r="3.5"/><circle cx="1224.7" cy="409.6" r="3.5"/><circle cx="1215.9" cy="406.3" r="3.5"/><circle cx="1208.2" cy="402.2" r="3.5"/><circle cx="1284.5" cy="406.3" r="3.5"/><circle cx="1339.6" cy="399.3" r="3.5"/><circle cx="1223.6" cy="403.8" r="3.5"/><circle cx="1228.6" cy="404.9" r="3.5"/><circle cx="1210.5" cy="405.2" r="3.5"/><circle cx="1205.6" cy="401.9" r="3.5"/><circle cx="1219.0" cy="400.6" r="3.5"/><circle cx="1202.9" cy="404.1" r="3.5"/><circle cx="1270.7" cy="395.0" r="3.5"/><circle cx="1370.5" cy="379.3" r="3.5"/><circle cx="1361.9" cy="405.1" r="3.5"/><circle cx="1247.3" cy="400.8" r="3.5"/><circle cx="1184.2" cy="404.6" r="3.5"/><circle cx="1331.2" cy="395.4" r="3.5"/><circle cx="1255.0" cy="402.1" r="3.5"/><circle cx="1235.8" cy="402.9" r="3.5"/><circle cx="1320.1" cy="398.4" r="3.5"/><circle cx="1207.4" cy="399.1" r="3.5"/><circle cx="1281.1" cy="406.7" r="3.5"/><circle cx="1244.3" cy="398.1" r="3.5"/><circle cx="1327.6" cy="405.5" r="3.5"/><circle cx="1310.9" cy="383.9" r="3.5"/><circle cx="1383.3" cy="378.6" r="3.5"/><circle cx="1225.5" cy="409.2" r="3.5"/><circle cx="1217.7" cy="402.5" r="3.5"/><circle cx="1191.0" cy="400.7" r="3.5"/><circle cx="1223.9" cy="405.5" r="3.5"/><circle cx="1213.1" cy="397.3" r="3.5"/><circle cx="1216.6" cy="403.9" r="3.5"/><circle cx="1200.7" cy="391.3" r="3.5"/><circle cx="1211.6" cy="400.9" r="3.5"/><circle cx="1207.9" cy="399.9" r="3.5"/><circle cx="1268.4" cy="404.7" r="3.5"/><circle cx="1242.7" cy="407.9" r="3.5"/><circle cx="1345.2" cy="387.3" r="3.5"/><circle cx="1208.4" cy="413.2" r="3.5"/><circle cx="1190.9" cy="401.1" r="3.5"/><circle cx="1177.7" cy="394.8" r="3.5"/><circle cx="1194.7" cy="390.9" r="3.5"/><circle cx="1223.9" cy="412.6" r="3.5"/><circle cx="1220.5" cy="402.8" r="3.5"/><circle cx="1198.9" cy="400.4" r="3.5"/><circle cx="1217.6" cy="398.9" r="3.5"/><circle cx="1195.5" cy="398.1" r="3.5"/><circle cx="1181.2" cy="412.3" r="3.5"/><circle cx="1285.5" cy="399.8" r="3.5"/><circle cx="1193.3" cy="414.3" r="3.5"/><circle cx="1242.5" cy="401.3" r="3.5"/><circle cx="1182.9" cy="392.4" r="3.5"/><circle cx="1238.7" cy="407.9" r="3.5"/><circle cx="1240.5" cy="400.3" r="3.5"/><circle cx="1207.9" cy="402.4" r="3.5"/><circle cx="1210.8" cy="413.0" r="3.5"/><circle cx="1198.6" cy="402.6" r="3.5"/><circle cx="1258.0" cy="409.1" r="3.5"/><circle cx="1226.0" cy="403.1" r="3.5"/><circle cx="1259.0" cy="396.9" r="3.5"/><circle cx="1233.3" cy="406.0" r="3.5"/><circle cx="1237.4" cy="399.0" r="3.5"/><circle cx="1219.2" cy="410.8" r="3.5"/><circle cx="1218.9" cy="409.2" r="3.5"/><circle cx="1210.5" cy="404.1" r="3.5"/><circle cx="1219.3" cy="407.1" r="3.5"/><circle cx="1295.3" cy="403.6" r="3.5"/><circle cx="1220.5" cy="401.6" r="3.5"/><circle cx="1216.2" cy="408.9" r="3.5"/><circle cx="1193.2" cy="403.0" r="3.5"/><circle cx="1324.0" cy="402.4" r="3.5"/><circle cx="1300.0" cy="392.4" r="3.5"/><circle cx="1193.0" cy="404.9" r="3.5"/><circle cx="1217.8" cy="405.9" r="3.5"/><circle cx="1199.8" cy="399.6" r="3.5"/><circle cx="1306.1" cy="395.8" r="3.5"/><circle cx="1178.9" cy="402.6" r="3.5"/><circle cx="1229.3" cy="407.5" r="3.5"/><circle cx="1254.6" cy="397.4" r="3.5"/><circle cx="1218.7" cy="406.1" r="3.5"/><circle cx="1235.6" cy="412.2" r="3.5"/><circle cx="1229.2" cy="405.2" r="3.5"/><circle cx="1237.3" cy="392.8" r="3.5"/><circle cx="1224.5" cy="404.0" r="3.5"/><circle cx="1201.6" cy="410.0" r="3.5"/><circle cx="1370.4" cy="388.8" r="3.5"/><circle cx="1201.2" cy="410.4" r="3.5"/><circle cx="1198.5" cy="407.7" r="3.5"/><circle cx="1244.8" cy="405.1" r="3.5"/><circle cx="1359.3" cy="390.8" r="3.5"/><circle cx="1216.5" cy="400.4" r="3.5"/><circle cx="1281.4" cy="399.0" r="3.5"/><circle cx="1230.7" cy="403.4" r="3.5"/><circle cx="1182.3" cy="407.8" r="3.5"/><circle cx="1209.7" cy="406.3" r="3.5"/><circle cx="1222.7" cy="401.5" r="3.5"/><circle cx="1214.4" cy="404.0" r="3.5"/><circle cx="1238.2" cy="405.2" r="3.5"/><circle cx="1241.1" cy="392.5" r="3.5"/><circle cx="1222.9" cy="398.6" r="3.5"/><circle cx="1194.2" cy="399.9" r="3.5"/><circle cx="1211.3" cy="402.5" r="3.5"/><circle cx="1185.5" cy="403.2" r="3.5"/><circle cx="1212.6" cy="402.1" r="3.5"/><circle cx="1223.5" cy="398.0" r="3.5"/><circle cx="1217.4" cy="407.6" r="3.5"/><circle cx="1267.5" cy="403.2" r="3.5"/><circle cx="1204.4" cy="394.4" r="3.5"/><circle cx="1222.7" cy="403.4" r="3.5"/><circle cx="1267.8" cy="394.2" r="3.5"/><circle cx="1371.8" cy="407.9" r="3.5"/><circle cx="1183.9" cy="402.4" r="3.5"/><circle cx="1223.0" cy="400.9" r="3.5"/><circle cx="1197.6" cy="404.7" r="3.5"/><circle cx="1215.9" cy="402.4" r="3.5"/><circle cx="1220.4" cy="403.1" r="3.5"/><circle cx="1226.5" cy="412.6" r="3.5"/><circle cx="1199.2" cy="405.5" r="3.5"/><circle cx="1215.7" cy="408.6" r="3.5"/><circle cx="1293.2" cy="407.7" r="3.5"/><circle cx="1181.2" cy="400.1" r="3.5"/><circle cx="1275.4" cy="412.0" r="3.5"/><circle cx="1256.8" cy="406.3" r="3.5"/><circle cx="1176.7" cy="410.7" r="3.5"/><circle cx="1193.3" cy="399.6" r="3.5"/><circle cx="1212.1" cy="408.6" r="3.5"/><circle cx="1245.3" cy="405.1" r="3.5"/><circle cx="1234.2" cy="399.6" r="3.5"/><circle cx="1228.9" cy="417.1" r="3.5"/><circle cx="1204.2" cy="407.3" r="3.5"/><circle cx="1209.5" cy="402.4" r="3.5"/><circle cx="1222.0" cy="404.6" r="3.5"/><circle cx="1220.2" cy="409.0" r="3.5"/><circle cx="1271.1" cy="408.5" r="3.5"/><circle cx="1206.6" cy="407.3" r="3.5"/><circle cx="1249.7" cy="409.9" r="3.5"/><circle cx="1243.6" cy="411.7" r="3.5"/><circle cx="1255.6" cy="394.2" r="3.5"/><circle cx="1228.7" cy="400.2" r="3.5"/><circle cx="1256.0" cy="396.0" r="3.5"/><circle cx="1199.7" cy="404.7" r="3.5"/><circle cx="1237.5" cy="411.8" r="3.5"/><circle cx="1397.1" cy="394.0" r="3.5"/><circle cx="1191.2" cy="398.7" r="3.5"/><circle cx="1217.9" cy="401.8" r="3.5"/><circle cx="1320.9" cy="406.2" r="3.5"/><circle cx="1222.8" cy="400.1" r="3.5"/><circle cx="1218.6" cy="402.9" r="3.5"/><circle cx="1317.6" cy="400.6" r="3.5"/><circle cx="1352.5" cy="377.6" r="3.5"/><circle cx="1211.4" cy="408.4" r="3.5"/><circle cx="1236.0" cy="405.0" r="3.5"/><circle cx="1205.8" cy="407.3" r="3.5"/><circle cx="1203.7" cy="398.4" r="3.5"/><circle cx="1260.0" cy="396.9" r="3.5"/><circle cx="1193.9" cy="401.1" r="3.5"/><circle cx="1243.6" cy="404.1" r="3.5"/><circle cx="1212.6" cy="404.1" r="3.5"/><circle cx="1296.9" cy="400.6" r="3.5"/><circle cx="1166.0" cy="415.9" r="3.5"/><circle cx="1234.5" cy="411.0" r="3.5"/><circle cx="1194.7" cy="400.3" r="3.5"/><circle cx="1199.9" cy="400.4" r="3.5"/><circle cx="1203.6" cy="414.0" r="3.5"/><circle cx="1190.4" cy="402.8" r="3.5"/><circle cx="1188.4" cy="412.1" r="3.5"/><circle cx="1215.1" cy="413.3" r="3.5"/><circle cx="1263.5" cy="398.2" r="3.5"/><circle cx="1227.6" cy="401.5" r="3.5"/><circle cx="1227.8" cy="403.7" r="3.5"/><circle cx="1212.6" cy="398.5" r="3.5"/><circle cx="1331.8" cy="388.5" r="3.5"/><circle cx="1186.0" cy="402.5" r="3.5"/><circle cx="1358.7" cy="401.4" r="3.5"/><circle cx="1206.7" cy="401.3" r="3.5"/><circle cx="1212.5" cy="402.5" r="3.5"/><circle cx="1209.7" cy="401.1" r="3.5"/><circle cx="1312.9" cy="388.0" r="3.5"/><circle cx="1178.7" cy="413.3" r="3.5"/><circle cx="1224.2" cy="389.1" r="3.5"/><circle cx="1216.4" cy="399.6" r="3.5"/><circle cx="1222.5" cy="406.8" r="3.5"/><circle cx="1322.5" cy="386.5" r="3.5"/><circle cx="1196.4" cy="407.7" r="3.5"/><circle cx="1217.3" cy="411.1" r="3.5"/><circle cx="1233.5" cy="397.7" r="3.5"/><circle cx="1217.0" cy="404.8" r="3.5"/><circle cx="1264.4" cy="394.5" r="3.5"/><circle cx="1333.4" cy="400.8" r="3.5"/><circle cx="1230.2" cy="403.6" r="3.5"/><circle cx="1171.7" cy="407.5" r="3.5"/><circle cx="1219.6" cy="411.7" r="3.5"/><circle cx="1191.4" cy="407.1" r="3.5"/><circle cx="1185.0" cy="412.0" r="3.5"/><circle cx="1332.7" cy="401.9" r="3.5"/><circle cx="1203.2" cy="397.1" r="3.5"/><circle cx="1276.2" cy="402.7" r="3.5"/><circle cx="1369.8" cy="396.5" r="3.5"/><circle cx="1330.1" cy="384.8" r="3.5"/><circle cx="1318.0" cy="408.7" r="3.5"/><circle cx="1284.8" cy="401.0" r="3.5"/><circle cx="1242.9" cy="404.9" r="3.5"/><circle cx="1213.8" cy="398.3" r="3.5"/><circle cx="1180.6" cy="405.7" r="3.5"/><circle cx="1294.6" cy="401.9" r="3.5"/><circle cx="1280.1" cy="398.7" r="3.5"/><circle cx="1232.4" cy="403.5" r="3.5"/><circle cx="1195.8" cy="392.4" r="3.5"/><circle cx="1205.8" cy="411.9" r="3.5"/><circle cx="1266.4" cy="394.4" r="3.5"/><circle cx="1173.8" cy="394.9" r="3.5"/><circle cx="1320.8" cy="390.3" r="3.5"/><circle cx="1307.7" cy="392.6" r="3.5"/><circle cx="1258.9" cy="405.3" r="3.5"/><circle cx="1209.3" cy="398.4" r="3.5"/><circle cx="1251.2" cy="404.0" r="3.5"/><circle cx="1314.8" cy="390.9" r="3.5"/><circle cx="1194.1" cy="416.7" r="3.5"/><circle cx="1163.2" cy="410.0" r="3.5"/><circle cx="1232.3" cy="415.0" r="3.5"/><circle cx="1203.5" cy="398.2" r="3.5"/><circle cx="1262.2" cy="405.9" r="3.5"/><circle cx="1218.8" cy="397.7" r="3.5"/><circle cx="1215.7" cy="407.1" r="3.5"/><circle cx="1172.6" cy="409.7" r="3.5"/><circle cx="1383.3" cy="373.5" r="3.5"/><circle cx="1320.3" cy="388.9" r="3.5"/><circle cx="1208.2" cy="397.0" r="3.5"/><circle cx="1163.9" cy="399.9" r="3.5"/><circle cx="1286.6" cy="395.4" r="3.5"/><circle cx="1233.0" cy="397.1" r="3.5"/><circle cx="1198.5" cy="396.0" r="3.5"/><circle cx="1213.7" cy="404.2" r="3.5"/><circle cx="1220.2" cy="406.7" r="3.5"/><circle cx="1232.5" cy="394.9" r="3.5"/><circle cx="1261.7" cy="398.1" r="3.5"/><circle cx="1248.9" cy="402.3" r="3.5"/><circle cx="1206.4" cy="402.5" r="3.5"/><circle cx="1198.6" cy="400.2" r="3.5"/><circle cx="1201.6" cy="408.7" r="3.5"/><circle cx="1246.9" cy="407.7" r="3.5"/><circle cx="1194.2" cy="408.1" r="3.5"/><circle cx="1233.5" cy="401.7" r="3.5"/><circle cx="1266.6" cy="414.1" r="3.5"/><circle cx="1194.0" cy="414.1" r="3.5"/><circle cx="1269.2" cy="398.7" r="3.5"/><circle cx="1168.0" cy="406.2" r="3.5"/><circle cx="1205.5" cy="410.9" r="3.5"/><circle cx="1274.5" cy="395.9" r="3.5"/><circle cx="1226.8" cy="405.6" r="3.5"/><circle cx="1306.5" cy="399.2" r="3.5"/><circle cx="1252.4" cy="423.1" r="3.5"/><circle cx="1254.8" cy="425.0" r="3.5"/><circle cx="1289.9" cy="418.5" r="3.5"/><circle cx="1332.0" cy="423.4" r="3.5"/><circle cx="1337.0" cy="425.0" r="3.5"/><circle cx="1368.9" cy="418.5" r="3.5"/><circle cx="1317.1" cy="343.2" r="3.5"/><circle cx="1262.6" cy="375.7" r="3.5"/><circle cx="1208.7" cy="379.4" r="3.5"/><circle cx="1369.0" cy="274.5" r="3.5"/><circle cx="1424.2" cy="356.1" r="3.5"/><circle cx="1415.0" cy="369.2" r="3.5"/></g>
<g fill="#ff0000" fill-opacity="0.2"><circle cx="1257.5" cy="400.9" r="3.5"/><circle cx="1384.2" cy="371.3" r="3.5"/><circle cx="1250.2" cy="397.6" r="3.5"/><circle cx="1255.1" cy="405.9" r="3.5"/><circle cx="1342.3" cy="387.5" r="3.5"/><circle cx="1341.1" cy="384.9" r="3.5"/><circle cx="1320.2" cy="402.3" r="3.5"/><circle cx="1385.5" cy="355.7" r="3.5"/><circle cx="1347.1" cy="383.8" r="3.5"/><circle cx="1245.7" cy="402.3" r="3.5"/><circle cx="1289.7" cy="384.6" r="3.5"/><circle cx="1364.8" cy="371.3" r="3.5"/><circle cx="1399.8" cy="352.8" r="3.5"/><circle cx="1265.6" cy="394.1" r="3.5"/><circle cx="1314.0" cy="388.6" r="3.5"/><circle cx="1363.7" cy="388.4" r="3.5"/><circle cx="1294.3" cy="389.7" r="3.5"/><circle cx="1266.9" cy="399.1" r="3.5"/><circle cx="1349.3" cy="354.8" r="3.5"/><circle cx="1381.4" cy="367.8" r="3.5"/><circle cx="1328.5" cy="398.4" r="3.5"/><circle cx="1272.1" cy="402.4" r="3.5"/><circle cx="1372.9" cy="376.8" r="3.5"/><circle cx="1339.6" cy="372.3" r="3.5"/><circle cx="1282.7" cy="390.3" r="3.5"/><circle cx="1236.4" cy="401.3" r="3.5"/><circle cx="1251.3" cy="390.6" r="3.5"/><circle cx="1285.7" cy="387.9" r="3.5"/><circle cx="1294.3" cy="402.5" r="3.5"/><circle cx="1314.0" cy="376.7" r="3.5"/><circle cx="1344.2" cy="390.7" r="3.5"/><circle cx="1341.2" cy="358.9" r="3.5"/><circle cx="1282.6" cy="398.7" r="3.5"/><circle cx="1358.6" cy="365.4" r="3.5"/><circle cx="1325.3" cy="386.5" r="3.5"/><circle cx="1331.6" cy="375.4" r="3.5"/><circle cx="1340.5" cy="380.0" r="3.5"/><circle cx="1341.8" cy="378.1" r="3.5"/><circle cx="1339.9" cy="373.3" r="3.5"/><circle cx="1335.1" cy="384.7" r="3.5"/><circle cx="1317.9" cy="404.9" r="3.5"/><circle cx="1291.3" cy="387.9" r="3.5"/><circle cx="1279.5" cy="402.1" r="3.5"/><circle cx="1294.2" cy="393.5" r="3.5"/><circle cx="1395.6" cy="362.2" r="3.5"/><circle cx="1373.6" cy="386.2" r="3.5"/><circle cx="1367.8" cy="337.4" r="3.5"/><circle cx="1296.7" cy="385.2" r="3.5"/><circle cx="1275.3" cy="386.8" r="3.5"/><circle cx="1387.1" cy="362.8" r="3.5"/><circle cx="1312.2" cy="386.6" r="3.5"/><circle cx="1403.6" cy="423.1" r="3.5"/><circle cx="1342.0" cy="381.4" r="3.5"/><circle cx="1312.7" cy="399.5" r="3.5"/><circle cx="1318.9" cy="402.2" r="3.5"/><circle cx="1403.2" cy="356.7" r="3.5"/><circle cx="1373.7" cy="376.7" r="3.5"/><circle cx="1294.8" cy="409.8" r="3.5"/><circle cx="1354.3" cy="376.4" r="3.5"/><circle cx="1384.8" cy="369.2" r="3.5"/><circle cx="1299.8" cy="396.8" r="3.5"/><circle cx="1396.1" cy="338.1" r="3.5"/><circle cx="1361.4" cy="367.0" r="3.5"/><circle cx="1401.2" cy="364.0" r="3.5"/><circle cx="1293.1" cy="398.7" r="3.5"/><circle cx="1194.5" cy="401.8" r="3.5"/><circle cx="1277.8" cy="394.2" r="3.5"/><circle cx="1377.7" cy="367.1" r="3.5"/><circle cx="1289.1" cy="393.5" r="3.5"/><circle cx="1277.9" cy="403.1" r="3.5"/><circle cx="1359.3" cy="374.4" r="3.5"/><circle cx="1362.3" cy="373.9" r="3.5"/><circle cx="1313.2" cy="378.7" r="3.5"/><circle cx="1346.1" cy="362.2" r="3.5"/><circle cx="1195.6" cy="407.0" r="3.5"/><circle cx="1341.8" cy="368.2" r="3.5"/><circle cx="1317.0" cy="388.5" r="3.5"/><circle cx="1273.7" cy="393.7" r="3.5"/><circle cx="1282.3" cy="388.8" r="3.5"/><circle cx="1350.1" cy="381.0" r="3.5"/><circle cx="1356.2" cy="364.2" r="3.5"/><circle cx="1319.8" cy="375.3" r="3.5"/><circle cx="1327.1" cy="379.3" r="3.5"/><circle cx="1373.4" cy="370.1" r="3.5"/><circle cx="1368.4" cy="391.5" r="3.5"/><circle cx="1346.7" cy="346.2" r="3.5"/><circle cx="1282.2" cy="396.1" r="3.5"/><circle cx="1385.3" cy="361.8" r="3.5"/><circle cx="1367.8" cy="385.6" r="3.5"/><circle cx="1282.3" cy="392.8" r="3.5"/><circle cx="1313.3" cy="358.4" r="3.5"/><circle cx="1288.0" cy="402.7" r="3.5"/><circle cx="1328.5" cy="376.0" r="3.5"/><circle cx="1276.3" cy="396.6" r="3.5"/><circle cx="1346.0" cy="357.5" r="3.5"/><circle cx="1334.7" cy="366.1" r="3.5"/><circle cx="1175.1" cy="405.1" r="3.5"/><circle cx="1254.4" cy="404.4" r="3.5"/><circle cx="1375.9" cy="375.1" r="3.5"/><circle cx="1307.1" cy="385.6" r="3.5"/><circle cx="1273.1" cy="401.8" r="3.5"/><circle cx="1337.4" cy="375.1" r="3.5"/><circle cx="1340.6" cy="380.8" r="3.5"/><circle cx="1269.8" cy="399.2" r="3.5"/><circle cx="1306.3" cy="393.6" r="3.5"/><circle cx="1252.8" cy="396.7" r="3.5"/><circle cx="1335.3" cy="380.2" r="3.5"/><circle cx="1346.0" cy="379.2" r="3.5"/><circle cx="1223.1" cy="403.5" r="3.5"/><circle cx="1228.2" cy="398.8" r="3.5"/><circle cx="1291.7" cy="404.2" r="3.5"/><circle cx="1292.3" cy="388.7" r="3.5"/><circle cx="1272.2" cy="404.0" r="3.5"/><circle cx="1374.9" cy="371.8" r="3.5"/><circle cx="1371.7" cy="388.6" r="3.5"/><circle cx="1378.7" cy="350.5" r="3.5"/><circle cx="1384.2" cy="398.6" r="3.5"/><circle cx="1208.2" cy="403.3" r="3.5"/><circle cx="1397.3" cy="341.8" r="3.5"/><circle cx="1275.0" cy="398.3" r="3.5"/><circle cx="1319.7" cy="400.7" r="3.5"/><circle cx="1273.2" cy="400.5" r="3.5"/><circle cx="1255.6" cy="393.0" r="3.5"/><circle cx="1352.9" cy="372.2" r="3.5"/><circle cx="1353.5" cy="395.2" r="3.5"/><circle cx="1305.9" cy="373.9" r="3.5"/><circle cx="1369.9" cy="367.2" r="3.5"/><circle cx="1263.3" cy="397.1" r="3.5"/><circle cx="1282.9" cy="409.0" r="3.5"/><circle cx="1385.1" cy="360.8" r="3.5"/><circle cx="1376.8" cy="388.7" r="3.5"/><circle cx="1327.9" cy="378.9" r="3.5"/><circle cx="1307.9" cy="384.0" r="3.5"/><circle cx="1270.3" cy="403.6" r="3.5"/><circle cx="1365.5" cy="380.9" r="3.5"/><circle cx="1299.2" cy="373.1" r="3.5"/><circle cx="1301.7" cy="394.8" r="3.5"/><circle cx="1283.1" cy="401.7" r="3.5"/><circle cx="1383.9" cy="361.2" r="3.5"/><circle cx="1350.5" cy="377.8" r="3.5"/><circle cx="1380.3" cy="369.3" r="3.5"/><circle cx="1239.7" cy="398.3" r="3.5"/><circle cx="1382.3" cy="357.0" r="3.5"/><circle cx="1334.4" cy="371.9" r="3.5"/><circle cx="1330.9" cy="378.6" r="3.5"/><circle cx="1293.6" cy="384.9" r="3.5"/><circle cx="1269.9" cy="397.6" r="3.5"/><circle cx="1284.5" cy="386.5" r="3.5"/><circle cx="1287.9" cy="395.2" r="3.5"/><circle cx="1304.0" cy="389.7" r="3.5"/><circle cx="1255.2" cy="394.1" r="3.5"/><circle cx="1328.5" cy="394.2" r="3.5"/><circle cx="1214.9" cy="413.6" r="3.5"/><circle cx="1387.9" cy="385.9" r="3.5"/><circle cx="1250.5" cy="393.0" r="3.5"/><circle cx="1329.5" cy="391.4" r="3.5"/><circle cx="1334.9" cy="383.9" r="3.5"/><circle cx="1257.7" cy="398.9" r="3.5"/><circle cx="1307.4" cy="385.5" r="3.5"/><circle cx="1296.0" cy="392.2" r="3.5"/><circle cx="1347.6" cy="397.5" r="3.5"/><circle cx="1348.2" cy="380.7" r="3.5"/><circle cx="1242.0" cy="399.1" r="3.5"/><circle cx="1335.7" cy="376.4" r="3.5"/><circle cx="1295.1" cy="390.1" r="3.5"/><circle cx="1402.9" cy="365.4" r="3.5"/><circle cx="1359.7" cy="401.5" r="3.5"/><circle cx="1331.8" cy="375.1" r="3.5"/><circle cx="1372.5" cy="369.2" r="3.5"/><circle cx="1253.4" cy="397.0" r="3.5"/><circle cx="1358.9" cy="368.1" r="3.5"/><circle cx="1345.1" cy="383.5" r="3.5"/><circle cx="1299.0" cy="395.0" r="3.5"/><circle cx="1391.2" cy="340.8" r="3.5"/><circle cx="1380.3" cy="359.0" r="3.5"/><circle cx="1274.2" cy="407.5" r="3.5"/><circle cx="1339.2" cy="381.9" r="3.5"/><circle cx="1214.7" cy="406.4" r="3.5"/><circle cx="1351.3" cy="368.2" r="3.5"/><circle cx="1269.9" cy="395.7" r="3.5"/><circle cx="1332.3" cy="387.9" r="3.5"/><circle cx="1193.2" cy="403.6" r="3.5"/><circle cx="1314.2" cy="380.2" r="3.5"/><circle cx="1336.3" cy="380.7" r="3.5"/><circle cx="1292.4" cy="402.2" r="3.5"/><circle cx="1373.3" cy="361.3" r="3.5"/><circle cx="1331.2" cy="396.2" r="3.5"/><circle cx="1228.1" cy="405.9" r="3.5"/><circle cx="1398.9" cy="354.3" r="3.5"/><circle cx="1248.8" cy="400.4" r="3.5"/><circle cx="1333.1" cy="380.9" r="3.5"/><circle cx="1371.4" cy="374.6" r="3.5"/><circle cx="1345.4" cy="387.3" r="3.5"/><circle cx="1327.6" cy="374.8" r="3.5"/><circle cx="1230.6" cy="394.2" r="3.5"/><circle cx="1315.2" cy="393.8" r="3.5"/><circle cx="1289.2" cy="395.2" r="3.5"/><circle cx="1294.5" cy="395.3" r="3.5"/><circle cx="1295.5" cy="395.8" r="3.5"/><circle cx="1261.7" cy="407.3" r="3.5"/><circle cx="1237.2" cy="395.7" r="3.5"/><circle cx="1349.7" cy="392.4" r="3.5"/><circle cx="1157.7" cy="405.4" r="3.5"/><circle cx="1323.5" cy="393.8" r="3.5"/><circle cx="1283.5" cy="408.0" r="3.5"/><circle cx="1334.4" cy="362.2" r="3.5"/><circle cx="1323.7" cy="387.3" r="3.5"/><circle cx="1317.4" cy="383.0" r="3.5"/><circle cx="1380.0" cy="364.9" r="3.5"/><circle cx="1339.9" cy="379.9" r="3.5"/><circle cx="1375.1" cy="360.6" r="3.5"/><circle cx="1332.5" cy="375.5" r="3.5"/><circle cx="1377.8" cy="377.9" r="3.5"/><circle cx="1413.7" cy="364.0" r="3.5"/><circle cx="1350.8" cy="372.2" r="3.5"/><circle cx="1313.6" cy="370.2" r="3.5"/><circle cx="1260.8" cy="411.7" r="3.5"/><circle cx="1270.2" cy="404.1" r="3.5"/><circle cx="1365.3" cy="376.9" r="3.5"/><circle cx="1388.2" cy="348.1" r="3.5"/><circle cx="1383.3" cy="356.7" r="3.5"/><circle cx="1232.9" cy="403.6" r="3.5"/><circle cx="1275.0" cy="388.9" r="3.5"/><circle cx="1323.8" cy="395.2" r="3.5"/><circle cx="1294.0" cy="394.2" r="3.5"/><circle cx="1252.9" cy="402.0" r="3.5"/><circle cx="1211.7" cy="399.0" r="3.5"/><circle cx="1314.9" cy="381.4" r="3.5"/><circle cx="1306.8" cy="384.4" r="3.5"/><circle cx="1161.9" cy="409.1" r="3.5"/><circle cx="1310.2" cy="386.8" r="3.5"/><circle cx="1242.9" cy="399.1" r="3.5"/><circle cx="1184.9" cy="407.7" r="3.5"/><circle cx="1237.9" cy="403.1" r="3.5"/><circle cx="1217.9" cy="411.2" r="3.5"/><circle cx="1302.2" cy="388.4" r="3.5"/><circle cx="1361.1" cy="365.5" r="3.5"/><circle cx="1341.2" cy="378.8" r="3.5"/><circle cx="1337.2" cy="390.3" r="3.5"/><circle cx="1343.3" cy="370.3" r="3.5"/><circle cx="1229.8" cy="402.6" r="3.5"/><circle cx="1210.3" cy="402.6" r="3.5"/><circle cx="1281.0" cy="400.0" r="3.5"/><circle cx="1374.0" cy="371.0" r="3.5"/><circle cx="1382.5" cy="353.4" r="3.5"/><circle cx="1346.5" cy="373.9" r="3.5"/><circle cx="1378.2" cy="382.2" r="3.5"/><circle cx="1349.8" cy="392.4" r="3.5"/><circle cx="1383.8" cy="373.4" r="3.5"/><circle cx="1255.1" cy="406.0" r="3.5"/><circle cx="1349.3" cy="371.4" r="3.5"/><circle cx="1324.1" cy="382.2" r="3.5"/><circle cx="1265.7" cy="403.6" r="3.5"/><circle cx="1290.5" cy="382.4" r="3.5"/><circle cx="1265.8" cy="397.8" r="3.5"/><circle cx="1357.7" cy="345.8" r="3.5"/><circle cx="1392.6" cy="360.4" r="3.5"/><circle cx="1345.9" cy="367.1" r="3.5"/><circle cx="1276.4" cy="386.6" r="3.5"/><circle cx="1267.8" cy="401.4" r="3.5"/><circle cx="1294.3" cy="385.3" r="3.5"/><circle cx="1273.0" cy="395.4" r="3.5"/><circle cx="1232.9" cy="400.9" r="3.5"/><circle cx="1370.4" cy="364.5" r="3.5"/><circle cx="1273.0" cy="409.4" r="3.5"/><circle cx="1360.1" cy="365.5" r="3.5"/><circle cx="1295.0" cy="394.5" r="3.5"/><circle cx="1407.7" cy="347.4" r="3.5"/><circle cx="1340.0" cy="372.7" r="3.5"/><circle cx="1247.2" cy="398.3" r="3.5"/><circle cx="1366.0" cy="369.1" r="3.5"/><circle cx="1298.0" cy="385.6" r="3.5"/><circle cx="1342.1" cy="379.8" r="3.5"/><circle cx="1296.2" cy="401.9" r="3.5"/><circle cx="1364.2" cy="371.0" r="3.5"/><circle cx="1308.7" cy="387.2" r="3.5"/><circle cx="1298.8" cy="387.4" r="3.5"/><circle cx="1236.2" cy="414.3" r="3.5"/><circle cx="1374.0" cy="393.8" r="3.5"/><circle cx="1266.5" cy="401.4" r="3.5"/><circle cx="1325.2" cy="393.0" r="3.5"/><circle cx="1348.9" cy="371.9" r="3.5"/><circle cx="1262.9" cy="397.5" r="3.5"/><circle cx="1286.4" cy="396.9" r="3.5"/><circle cx="1293.0" cy="394.3" r="3.5"/><circle cx="1338.6" cy="367.9" r="3.5"/><circle cx="1343.2" cy="373.2" r="3.5"/><circle cx="1269.6" cy="400.8" r="3.5"/><circle cx="1363.3" cy="374.5" r="3.5"/><circle cx="1350.0" cy="361.8" r="3.5"/><circle cx="1259.4" cy="399.7" r="3.5"/><circle cx="1243.7" cy="407.5" r="3.5"/><circle cx="1344.7" cy="368.5" r="3.5"/><circle cx="1374.3" cy="372.4" r="3.5"/><circle cx="1368.8" cy="348.1" r="3.5"/><circle cx="1162.0" cy="411.2" r="3.5"/><circle cx="1349.8" cy="359.7" r="3.5"/><circle cx="1268.0" cy="387.9" r="3.5"/><circle cx="1224.1" cy="401.5" r="3.5"/><circle cx="1373.2" cy="405.6" r="3.5"/><circle cx="1252.0" cy="395.6" r="3.5"/><circle cx="1332.4" cy="373.6" r="3.5"/><circle cx="1370.9" cy="376.8" r="3.5"/><circle cx="1390.6" cy="367.5" r="3.5"/><circle cx="1260.6" cy="411.7" r="3.5"/><circle cx="1253.7" cy="390.6" r="3.5"/><circle cx="1256.3" cy="387.6" r="3.5"/><circle cx="1305.7" cy="387.8" r="3.5"/><circle cx="1404.6" cy="365.8" r="3.5"/><circle cx="1362.0" cy="377.8" r="3.5"/><circle cx="1277.4" cy="403.3" r="3.5"/><circle cx="1204.5" cy="397.6" r="3.5"/><circle cx="1314.4" cy="377.5" r="3.5"/><circle cx="1331.5" cy="380.3" r="3.5"/><circle cx="1192.1" cy="409.5" r="3.5"/><circle cx="1299.0" cy="394.5" r="3.5"/><circle cx="1290.6" cy="391.3" r="3.5"/><circle cx="1300.1" cy="385.0" r="3.5"/><circle cx="1253.3" cy="404.6" r="3.5"/><circle cx="1386.9" cy="380.0" r="3.5"/><circle cx="1330.8" cy="418.1" r="3.5"/><circle cx="1320.4" cy="383.4" r="3.5"/><circle cx="1273.9" cy="406.7" r="3.5"/><circle cx="1287.4" cy="387.5" r="3.5"/><circle cx="1304.2" cy="384.1" r="3.5"/><circle cx="1323.6" cy="380.4" r="3.5"/><circle cx="1380.7" cy="359.6" r="3.5"/><circle cx="1245.0" cy="394.9" r="3.5"/><circle cx="1287.7" cy="389.4" r="3.5"/><circle cx="1276.6" cy="396.5" r="3.5"/><circle cx="1324.8" cy="378.5" r="3.5"/><circle cx="1403.2" cy="365.9" r="3.5"/><circle cx="1279.2" cy="396.0" r="3.5"/><circle cx="1297.3" cy="391.9" r="3.5"/><circle cx="1369.1" cy="381.5" r="3.5"/><circle cx="1334.7" cy="385.3" r="3.5"/><circle cx="1274.9" cy="398.2" r="3.5"/><circle cx="1190.0" cy="405.9" r="3.5"/><circle cx="1389.3" cy="365.0" r="3.5"/><circle cx="1237.6" cy="405.3" r="3.5"/><circle cx="1395.7" cy="356.0" r="3.5"/><circle cx="1265.0" cy="404.8" r="3.5"/><circle cx="1262.6" cy="407.4" r="3.5"/><circle cx="1329.8" cy="397.7" r="3.5"/><circle cx="1376.2" cy="364.6" r="3.5"/><circle cx="1312.7" cy="369.2" r="3.5"/><circle cx="1354.6" cy="368.2" r="3.5"/><circle cx="1314.7" cy="388.3" r="3.5"/><circle cx="1293.3" cy="401.2" r="3.5"/><circle cx="1273.2" cy="396.5" r="3.5"/><circle cx="1398.2" cy="356.7" r="3.5"/><circle cx="1387.5" cy="388.9" r="3.5"/><circle cx="1286.7" cy="390.9" r="3.5"/><circle cx="1391.4" cy="380.7" r="3.5"/><circle cx="1212.5" cy="408.0" r="3.5"/><circle cx="1339.1" cy="370.9" r="3.5"/><circle cx="1210.5" cy="405.5" r="3.5"/><circle cx="1348.3" cy="373.1" r="3.5"/><circle cx="1393.5" cy="355.5" r="3.5"/><circle cx="1322.3" cy="373.2" r="3.5"/><circle cx="1410.1" cy="331.8" r="3.5"/><circle cx="1303.1" cy="394.8" r="3.5"/><circle cx="1191.7" cy="404.3" r="3.5"/><circle cx="1254.6" cy="401.2" r="3.5"/><circle cx="1351.0" cy="360.2" r="3.5"/><circle cx="1238.0" cy="399.6" r="3.5"/><circle cx="1155.2" cy="407.6" r="3.5"/><circle cx="1277.9" cy="383.5" r="3.5"/><circle cx="1348.8" cy="352.1" r="3.5"/><circle cx="1375.7" cy="371.9" r="3.5"/><circle cx="1259.9" cy="399.9" r="3.5"/><circle cx="1346.0" cy="363.9" r="3.5"/><circle cx="1296.5" cy="391.6" r="3.5"/><circle cx="1350.3" cy="380.9" r="3.5"/><circle cx="1377.3" cy="396.3" r="3.5"/><circle cx="1330.6" cy="376.7" r="3.5"/><circle cx="1336.7" cy="388.9" r="3.5"/><circle cx="1407.0" cy="377.1" r="3.5"/><circle cx="1368.2" cy="371.6" r="3.5"/><circle cx="1371.7" cy="380.8" r="3.5"/><circle cx="1391.7" cy="322.3" r="3.5"/><circle cx="1379.1" cy="378.8" r="3.5"/><circle cx="1297.8" cy="391.7" r="3.5"/><circle cx="1306.2" cy="377.9" r="3.5"/><circle cx="1309.5" cy="397.4" r="3.5"/><circle cx="1178.1" cy="411.0" r="3.5"/><circle cx="1279.7" cy="407.2" r="3.5"/><circle cx="1372.1" cy="378.7" r="3.5"/><circle cx="1342.2" cy="378.2" r="3.5"/><circle cx="1407.2" cy="346.4" r="3.5"/><circle cx="1347.6" cy="374.0" r="3.5"/><circle cx="1296.5" cy="392.1" r="3.5"/><circle cx="1373.1" cy="375.4" r="3.5"/><circle cx="1329.6" cy="379.7" r="3.5"/><circle cx="1353.1" cy="375.8" r="3.5"/><circle cx="1318.3" cy="396.8" r="3.5"/><circle cx="1287.9" cy="396.6" r="3.5"/><circle cx="1315.8" cy="401.7" r="3.5"/><circle cx="1264.3" cy="410.5" r="3.5"/><circle cx="1385.2" cy="356.6" r="3.5"/><circle cx="1405.4" cy="350.0" r="3.5"/><circle cx="1401.4" cy="339.4" r="3.5"/><circle cx="1344.0" cy="361.4" r="3.5"/><circle cx="1345.9" cy="381.4" r="3.5"/><circle cx="1297.2" cy="381.8" r="3.5"/><circle cx="1342.7" cy="363.6" r="3.5"/><circle cx="1293.2" cy="391.5" r="3.5"/><circle cx="1277.7" cy="403.8" r="3.5"/><circle cx="1379.7" cy="361.6" r="3.5"/><circle cx="1347.7" cy="371.7" r="3.5"/><circle cx="1408.8" cy="373.2" r="3.5"/><circle cx="1276.8" cy="399.8" r="3.5"/><circle cx="1391.4" cy="371.0" r="3.5"/><circle cx="1402.8" cy="368.5" r="3.5"/><circle cx="1328.7" cy="376.5" r="3.5"/><circle cx="1341.0" cy="382.1" r="3.5"/><circle cx="1330.9" cy="378.3" r="3.5"/><circle cx="1309.9" cy="400.2" r="3.5"/><circle cx="1356.2" cy="386.4" r="3.5"/><circle cx="1167.6" cy="403.6" r="3.5"/><circle cx="1297.5" cy="400.2" r="3.5"/><circle cx="1386.8" cy="355.9" r="3.5"/><circle cx="1250.3" cy="408.5" r="3.5"/><circle cx="1327.3" cy="386.1" r="3.5"/><circle cx="1245.1" cy="396.4" r="3.5"/><circle cx="1349.6" cy="368.8" r="3.5"/><circle cx="1334.5" cy="379.3" r="3.5"/><circle cx="1209.6" cy="404.1" r="3.5"/><circle cx="1316.3" cy="378.2" r="3.5"/><circle cx="1347.6" cy="381.0" r="3.5"/><circle cx="1239.4" cy="392.5" r="3.5"/><circle cx="1316.1" cy="386.6" r="3.5"/><circle cx="1409.8" cy="357.7" r="3.5"/><circle cx="1341.7" cy="352.3" r="3.5"/><circle cx="1351.6" cy="380.3" r="3.5"/><circle cx="1315.5" cy="379.0" r="3.5"/><circle cx="1364.1" cy="353.6" r="3.5"/><circle cx="1374.0" cy="364.4" r="3.5"/><circle cx="1335.7" cy="379.4" r="3.5"/><circle cx="1277.9" cy="404.7" r="3.5"/><circle cx="1267.2" cy="394.2" r="3.5"/><circle cx="1193.0" cy="412.3" r="3.5"/><circle cx="1259.1" cy="407.0" r="3.5"/><circle cx="1214.3" cy="409.3" r="3.5"/><circle cx="1282.2" cy="408.0" r="3.5"/><circle cx="1381.8" cy="369.5" r="3.5"/><circle cx="1376.1" cy="364.2" r="3.5"/><circle cx="1281.8" cy="402.0" r="3.5"/><circle cx="1276.8" cy="402.7" r="3.5"/><circle cx="1393.6" cy="365.2" r="3.5"/><circle cx="1339.4" cy="378.1" r="3.5"/><circle cx="1388.5" cy="352.1" r="3.5"/><circle cx="1155.7" cy="411.0" r="3.5"/><circle cx="1319.1" cy="388.4" r="3.5"/><circle cx="1359.5" cy="353.5" r="3.5"/><circle cx="1318.3" cy="387.4" r="3.5"/><circle cx="1271.4" cy="403.7" r="3.5"/><circle cx="1375.1" cy="366.8" r="3.5"/><circle cx="1388.1" cy="371.2" r="3.5"/><circle cx="1185.3" cy="409.5" r="3.5"/><circle cx="1275.4" cy="384.5" r="3.5"/><circle cx="1312.1" cy="386.1" r="3.5"/><circle cx="1248.4" cy="403.8" r="3.5"/><circle cx="1342.9" cy="391.6" r="3.5"/><circle cx="1264.8" cy="406.4" r="3.5"/><circle cx="1364.0" cy="357.9" r="3.5"/><circle cx="1298.0" cy="391.0" r="3.5"/><circle cx="1267.2" cy="403.9" r="3.5"/><circle cx="1390.7" cy="374.1" r="3.5"/><circle cx="1293.0" cy="403.5" r="3.5"/><circle cx="1347.0" cy="363.4" r="3.5"/><circle cx="1400.9" cy="354.7" r="3.5"/><circle cx="1308.4" cy="382.3" r="3.5"/><circle cx="1174.5" cy="410.5" r="3.5"/><circle cx="1295.4" cy="378.9" r="3.5"/><circle cx="1250.0" cy="408.6" r="3.5"/><circle cx="1389.6" cy="379.2" r="3.5"/><circle cx="1219.4" cy="405.9" r="3.5"/><circle cx="1327.7" cy="369.1" r="3.5"/><circle cx="1198.0" cy="402.4" r="3.5"/><circle cx="1254.5" cy="405.2" r="3.5"/><circle cx="1244.3" cy="393.7" r="3.5"/><circle cx="1374.2" cy="367.2" r="3.5"/><circle cx="1333.0" cy="380.1" r="3.5"/><circle cx="1288.9" cy="399.7" r="3.5"/><circle cx="1317.0" cy="389.9" r="3.5"/><circle cx="1358.0" cy="375.8" r="3.5"/><circle cx="1406.5" cy="351.6" r="3.5"/><circle cx="1316.0" cy="386.8" r="3.5"/><circle cx="1332.9" cy="379.8" r="3.5"/><circle cx="1244.7" cy="405.8" r="3.5"/><circle cx="1182.7" cy="328.6" r="3.5"/><circle cx="1231.9" cy="315.0" r="3.5"/><circle cx="1218.3" cy="344.7" r="3.5"/><circle cx="1260.7" cy="361.5" r="3.5"/><circle cx="1223.9" cy="374.5" r="3.5"/><circle cx="1508.5" cy="218.2" r="3.5"/><circle cx="1505.3" cy="226.9" r="3.5"/><circle cx="1445.4" cy="304.1" r="3.5"/><circle cx="1458.7" cy="311.3" r="3.5"/><circle cx="1455.0" cy="315.6" r="3.5"/><circle cx="1450.0" cy="317.2" r="3.5"/><circle cx="1446.3" cy="321.5" r="3.5"/><circle cx="1472.3" cy="315.6" r="3.5"/><circle cx="1492.4" cy="314.1" r="3.5"/><circle cx="1456.3" cy="325.3" r="3.5"/><circle cx="1450.2" cy="328.8" r="3.5"/><circle cx="1474.5" cy="333.1" r="3.5"/><circle cx="1462.0" cy="335.1" r="3.5"/><circle cx="1449.3" cy="336.0" r="3.5"/><circle cx="1448.0" cy="345.6" r="3.5"/><circle cx="1449.5" cy="348.7" r="3.5"/><circle cx="1453.3" cy="364.2" r="3.5"/><circle cx="1424.8" cy="332.5" r="3.5"/><circle cx="1425.9" cy="338.6" r="3.5"/><circle cx="1429.2" cy="337.3" r="3.5"/><circle cx="1423.7" cy="340.1" r="3.5"/><circle cx="1422.0" cy="347.4" r="3.5"/><circle cx="1420.5" cy="356.5" r="3.5"/><circle cx="1425.9" cy="358.7" r="3.5"/><circle cx="1420.5" cy="365.9" r="3.5"/><circle cx="1418.3" cy="371.8" r="3.5"/><circle cx="1418.6" cy="372.3" r="3.5"/><circle cx="1420.0" cy="386.1" r="3.5"/><circle cx="1318.4" cy="415.7" r="3.5"/><circle cx="1355.5" cy="419.4" r="3.5"/><circle cx="1373.8" cy="421.0" r="3.5"/><circle cx="1390.0" cy="397.7" r="3.5"/><circle cx="1420.0" cy="386.0" r="3.5"/></g>
<path d="M942.5,450.5V442M942.5,19.5V27M976.5,450.5V445M976.5,19.5V25M1010.5,450.5V445M1010.5,19.5V25M1043.5,450.5V445M1043.5,19.5V25M1077.5,450.5V442M1077.5,19.5V27M1111.5,450.5V445M1111.5,19.5V25M1145.5,450.5V445M1145.5,19.5V25M1179.5,450.5V445M1179.5,19.5V25M1212.5,450.5V442M1212.5,19.5V27M1246.5,450.5V445M1246.5,19.5V25M1280.5,450.5V445M1280.5,19.5V25M1314.5,450.5V445M1314.5,19.5V25M1348.5,450.5V442M1348.5,19.5V27M1381.5,450.5V445M1381.5,19.5V25M1415.5,450.5V445M1415.5,19.5V25M1449.5,450.5V445M1449.5,19.5V25M1483.5,450.5V442M1483.5,19.5V27M1517.5,450.5V445M1517.5,19.5V25M1550.5,450.5V445M1550.5,19.5V25M1584.5,450.5V445M1584.5,19.5V25M1618.5,450.5V442M1618.5,19.5V27M928.5,448.5H934M1625.5,448.5H1621M928.5,428.5H937M1625.5,428.5H1619M928.5,409.5H934M1625.5,409.5H1621M928.5,390.5H934M1625.5,390.5H1621M928.5,370.5H934M1625.5,370.5H1621M928.5,351.5H934M1625.5,351.5H1621M928.5,331.5H937M1625.5,331.5H1619M928.5,312.5H934M1625.5,312.5H1621M928.5,293.5H934M1625.5,293.5H1621M928.5,273.5H934M1625.5,273.5H1621M928.5,254.5H934M1625.5,254.5H1621M928.5,234.5H937M1625.5,234.5H1619M928.5,215.5H934M1625.5,215.5H1621M928.5,196.5H934M1625.5,196.5H1621M928.5,176.5H934M1625.5,176.5H1621M928.5,157.5H934M1625.5,157.5H1621M928.5,137.5H937M1625.5,137.5H1619M928.5,118.5H934M1625.5,118.5H1621M928.5,99.5H934M1625.5,99.5H1621M928.5,79.5H934M1625.5,79.5H1621M928.5,60.5H934M1625.5,60.5H1621M928.5,41.5H937M1625.5,41.5H1619M928.5,21.5H934M1625.5,21.5H1621" stroke="#000" stroke-width="1" fill="none"/><rect x="928.5" y="19.5" width="697.0" height="431.0" fill="none" stroke="#000" stroke-width="1"/><text x="940.9" y="480.7" text-anchor="middle" class="n" textLength="38.9" lengthAdjust="spacingAndGlyphs">0.0</text><text x="1076.9" y="480.7" text-anchor="middle" class="n" textLength="38.9" lengthAdjust="spacingAndGlyphs">0.2</text><text x="1212.1" y="480.7" text-anchor="middle" class="n" textLength="38.9" lengthAdjust="spacingAndGlyphs">0.4</text><text x="1347.2" y="480.7" text-anchor="middle" class="n" textLength="38.9" lengthAdjust="spacingAndGlyphs">0.6</text><text x="1482.3" y="480.7" text-anchor="middle" class="n" textLength="38.9" lengthAdjust="spacingAndGlyphs">0.8</text><path d="M763 0H583V1147Q518 1085 412.5 1023T223 930V1104Q374 1175 487 1276T647 1472H763Z" transform="translate(1598.72,480.7) scale(0.01348,-0.01348)" fill="#000" stroke="#000" stroke-width="22"/><text x="1638.2" y="480.7" text-anchor="end" class="n" textLength="23.3" lengthAdjust="spacingAndGlyphs">.0</text><path d="M763 0H583V1147Q518 1085 412.5 1023T223 930V1104Q374 1175 487 1276T647 1472H763Z" transform="translate(882.72,437.6) scale(0.01348,-0.01348)" fill="#000" stroke="#000" stroke-width="22"/><text x="921.9" y="437.6" text-anchor="end" class="n" textLength="23.3" lengthAdjust="spacingAndGlyphs">.0</text><path d="M763 0H583V1147Q518 1085 412.5 1023T223 930V1104Q374 1175 487 1276T647 1472H763Z" transform="translate(882.72,340.6) scale(0.01348,-0.01348)" fill="#000" stroke="#000" stroke-width="22"/><text x="921.9" y="340.6" text-anchor="end" class="n" textLength="23.3" lengthAdjust="spacingAndGlyphs">.5</text><text x="921.9" y="243.7" text-anchor="end" class="n" textLength="38.9" lengthAdjust="spacingAndGlyphs">2.0</text><text x="921.9" y="146.7" text-anchor="end" class="n" textLength="38.9" lengthAdjust="spacingAndGlyphs">2.5</text><text x="921.9" y="49.7" text-anchor="end" class="n" textLength="38.9" lengthAdjust="spacingAndGlyphs">3.0</text>
<text x="842.5" y="39.5" class="t" style="font-size:29.5px">(b)</text>
<text x="949.3" y="59.5" class="t"><tspan class="i">θ</tspan><tspan class="i" dy="5" style="font-size:20px">i</tspan></text>
<text x="996.2" y="59.5" class="t" style="font-size:29.3px" textLength="42.8" lengthAdjust="spacingAndGlyphs">70°</text>
<path d="M981.2,47.5h14.1v2.7h-14.1zM981.2,54.7h14.1v2.7h-14.1z" fill="#000"/>
<text transform="translate(864.1,262.5) rotate(-90)" class="t"><tspan style="font-size:26.3px" dy="1.0">&lt;</tspan><tspan class="i" dy="-1.0" dx="0.3" style="font-size:29px">n</tspan><tspan class="i" dy="4.3" dx="0.6" style="font-size:18.5px">s</tspan><tspan dy="-3.3" dx="1.2" style="font-size:26.3px">&gt;</tspan></text>
 <text x="1277.5" y="525" text-anchor="middle" class="t i">β</text>
<text x="1610.9" y="379.8" text-anchor="end" class="t" style="fill:#0066ff;font-size:28.8px" textLength="78.0" lengthAdjust="spacingAndGlyphs">March</text>
<text x="1610.9" y="418.2" text-anchor="end" class="t" style="fill:#ff0000;font-size:28.8px" textLength="56.2" lengthAdjust="spacingAndGlyphs">April</text>
</svg>
</body></html>
